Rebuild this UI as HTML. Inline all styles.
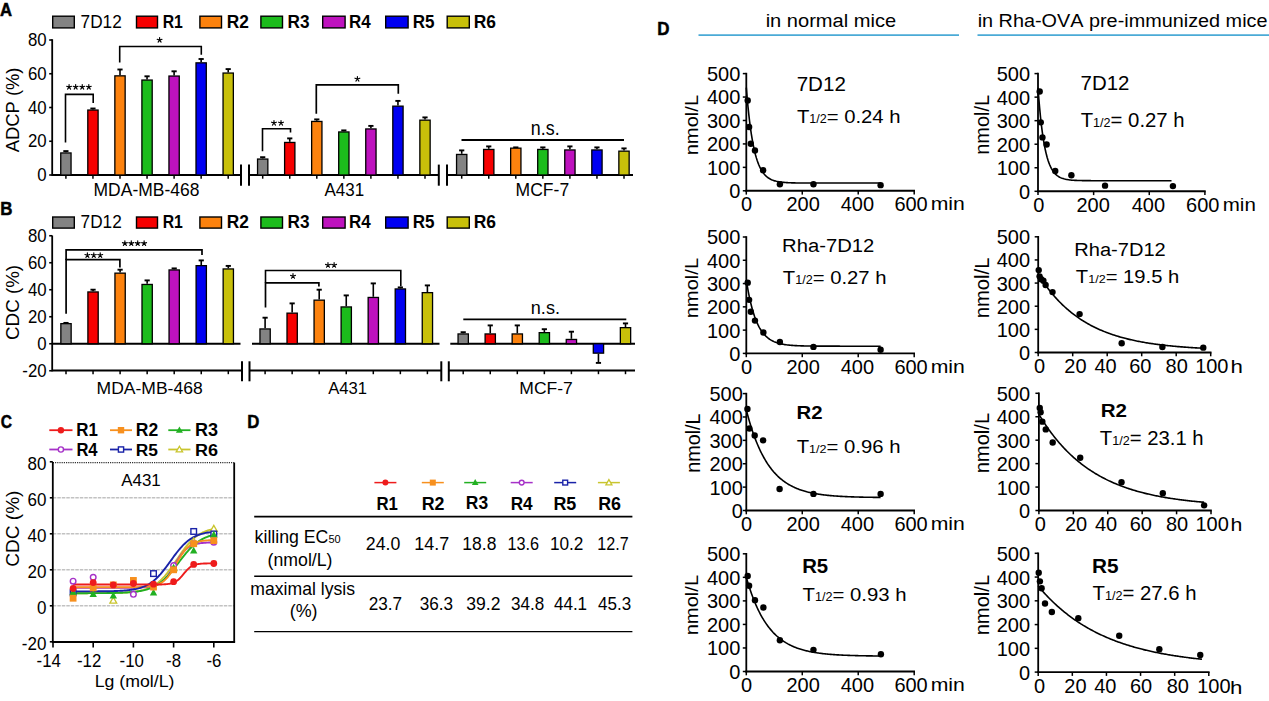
<!DOCTYPE html>
<html><head><meta charset="utf-8"><style>
html,body{margin:0;padding:0;background:#fff;overflow:hidden}
svg{display:block}
text{font-family:"Liberation Sans",sans-serif;font-kerning:none}
</style></head><body>
<svg width="1269" height="701" viewBox="0 0 1269 701">
<rect width="1269" height="701" fill="#fff"/>
<text stroke="#000" stroke-width="0.5" transform="translate(0.08,15.50) scale(0.9338,1)" font-size="17.88" fill="#000"><tspan font-weight="bold">A</tspan></text>
<text stroke="#000" stroke-width="0.5" transform="translate(0.27,215.40) scale(0.9371,1)" font-size="18.02" fill="#000"><tspan font-weight="bold">B</tspan></text>
<text stroke="#000" stroke-width="0.5" transform="translate(0.66,428.31) scale(0.8182,1)" font-size="19.07" fill="#000"><tspan font-weight="bold">C</tspan></text>
<text stroke="#000" stroke-width="0.5" transform="translate(247.28,428.40) scale(0.8754,1)" font-size="19.19" fill="#000"><tspan font-weight="bold">D</tspan></text>
<text stroke="#000" stroke-width="0.5" transform="translate(657.17,34.50) scale(0.9334,1)" font-size="18.17" fill="#000"><tspan font-weight="bold">D</tspan></text>
<rect x="52.70" y="16.20" width="21.60" height="11.70" fill="#838383" stroke="#000" stroke-width="1.4"/>
<rect x="136.50" y="16.20" width="21.00" height="11.70" fill="#f60000" stroke="#000" stroke-width="1.4"/>
<rect x="199.90" y="16.20" width="21.60" height="11.70" fill="#fc820e" stroke="#000" stroke-width="1.4"/>
<rect x="260.90" y="16.20" width="21.60" height="11.70" fill="#1cbc1c" stroke="#000" stroke-width="1.4"/>
<rect x="322.70" y="16.20" width="22.40" height="11.70" fill="#be12be" stroke="#000" stroke-width="1.4"/>
<rect x="385.70" y="16.20" width="22.40" height="11.70" fill="#0000f2" stroke="#000" stroke-width="1.4"/>
<rect x="447.20" y="16.20" width="22.10" height="11.70" fill="#c8c00a" stroke="#000" stroke-width="1.4"/>
<text transform="translate(80.62,27.80) scale(0.9105,1)" font-size="18.90" fill="#000"><tspan >7D12</tspan></text>
<text transform="translate(162.64,27.80) scale(0.8235,1)" font-size="19.19" fill="#000"><tspan font-weight="bold">R1</tspan></text>
<text transform="translate(226.84,27.80) scale(0.9167,1)" font-size="18.90" fill="#000"><tspan font-weight="bold">R2</tspan></text>
<text transform="translate(287.55,27.59) scale(0.9238,1)" font-size="18.61" fill="#000"><tspan font-weight="bold">R3</tspan></text>
<text transform="translate(349.06,27.80) scale(0.8859,1)" font-size="19.19" fill="#000"><tspan font-weight="bold">R4</tspan></text>
<text transform="translate(412.66,27.62) scale(0.9021,1)" font-size="18.92" fill="#000"><tspan font-weight="bold">R5</tspan></text>
<text transform="translate(473.73,27.62) scale(0.9356,1)" font-size="18.64" fill="#000"><tspan font-weight="bold">R6</tspan></text>
<rect x="52.70" y="217.00" width="21.60" height="11.10" fill="#838383" stroke="#000" stroke-width="1.4"/>
<rect x="136.50" y="217.00" width="21.00" height="11.10" fill="#f60000" stroke="#000" stroke-width="1.4"/>
<rect x="199.90" y="217.00" width="21.60" height="11.10" fill="#fc820e" stroke="#000" stroke-width="1.4"/>
<rect x="260.90" y="217.00" width="21.60" height="11.10" fill="#1cbc1c" stroke="#000" stroke-width="1.4"/>
<rect x="322.70" y="217.00" width="22.40" height="11.10" fill="#be12be" stroke="#000" stroke-width="1.4"/>
<rect x="385.70" y="217.00" width="22.40" height="11.10" fill="#0000f2" stroke="#000" stroke-width="1.4"/>
<rect x="447.20" y="217.00" width="22.10" height="11.10" fill="#c8c00a" stroke="#000" stroke-width="1.4"/>
<text transform="translate(80.62,228.00) scale(0.9538,1)" font-size="18.05" fill="#000"><tspan >7D12</tspan></text>
<text transform="translate(162.64,228.00) scale(0.8627,1)" font-size="18.31" fill="#000"><tspan font-weight="bold">R1</tspan></text>
<text transform="translate(226.84,228.00) scale(0.9604,1)" font-size="18.05" fill="#000"><tspan font-weight="bold">R2</tspan></text>
<text transform="translate(287.55,227.80) scale(0.9678,1)" font-size="17.76" fill="#000"><tspan font-weight="bold">R3</tspan></text>
<text transform="translate(349.06,228.00) scale(0.9281,1)" font-size="18.31" fill="#000"><tspan font-weight="bold">R4</tspan></text>
<text transform="translate(412.66,227.82) scale(0.9451,1)" font-size="18.06" fill="#000"><tspan font-weight="bold">R5</tspan></text>
<text transform="translate(473.73,227.83) scale(0.9801,1)" font-size="17.80" fill="#000"><tspan font-weight="bold">R6</tspan></text>
<line x1="52.20" y1="39.20" x2="52.20" y2="175.90" stroke="#000" stroke-width="1.8" />
<line x1="49.20" y1="40.00" x2="52.20" y2="40.00" stroke="#000" stroke-width="1.6" />
<text transform="translate(27.95,46.09) scale(0.9500,1)" font-size="17.70" fill="#000"><tspan >80</tspan></text>
<line x1="49.20" y1="73.75" x2="52.20" y2="73.75" stroke="#000" stroke-width="1.6" />
<text transform="translate(27.95,79.84) scale(0.9500,1)" font-size="17.70" fill="#000"><tspan >60</tspan></text>
<line x1="49.20" y1="107.50" x2="52.20" y2="107.50" stroke="#000" stroke-width="1.6" />
<text transform="translate(27.95,113.59) scale(0.9500,1)" font-size="17.70" fill="#000"><tspan >40</tspan></text>
<line x1="49.20" y1="141.25" x2="52.20" y2="141.25" stroke="#000" stroke-width="1.6" />
<text transform="translate(27.95,147.34) scale(0.9500,1)" font-size="17.70" fill="#000"><tspan >20</tspan></text>
<line x1="49.20" y1="175.00" x2="52.20" y2="175.00" stroke="#000" stroke-width="1.6" />
<text transform="translate(37.31,181.09) scale(0.9500,1)" font-size="17.70" fill="#000"><tspan >0</tspan></text>
<line x1="52.20" y1="175.00" x2="241.00" y2="175.00" stroke="#000" stroke-width="1.8" />
<line x1="249.00" y1="175.00" x2="438.80" y2="175.00" stroke="#000" stroke-width="1.8" />
<line x1="447.00" y1="175.00" x2="633.00" y2="175.00" stroke="#000" stroke-width="1.8" />
<line x1="241.00" y1="164.60" x2="241.00" y2="185.70" stroke="#000" stroke-width="2.0" />
<line x1="249.00" y1="164.60" x2="249.00" y2="185.70" stroke="#000" stroke-width="2.0" />
<line x1="438.80" y1="164.60" x2="438.80" y2="185.70" stroke="#000" stroke-width="2.0" />
<line x1="447.00" y1="164.60" x2="447.00" y2="185.70" stroke="#000" stroke-width="2.0" />
<line x1="65.90" y1="175.00" x2="65.90" y2="178.70" stroke="#000" stroke-width="1.5" />
<line x1="92.95" y1="175.00" x2="92.95" y2="178.70" stroke="#000" stroke-width="1.5" />
<line x1="120.00" y1="175.00" x2="120.00" y2="178.70" stroke="#000" stroke-width="1.5" />
<line x1="147.05" y1="175.00" x2="147.05" y2="178.70" stroke="#000" stroke-width="1.5" />
<line x1="174.10" y1="175.00" x2="174.10" y2="178.70" stroke="#000" stroke-width="1.5" />
<line x1="201.15" y1="175.00" x2="201.15" y2="178.70" stroke="#000" stroke-width="1.5" />
<line x1="228.20" y1="175.00" x2="228.20" y2="178.70" stroke="#000" stroke-width="1.5" />
<line x1="262.70" y1="175.00" x2="262.70" y2="178.70" stroke="#000" stroke-width="1.5" />
<line x1="289.75" y1="175.00" x2="289.75" y2="178.70" stroke="#000" stroke-width="1.5" />
<line x1="316.80" y1="175.00" x2="316.80" y2="178.70" stroke="#000" stroke-width="1.5" />
<line x1="343.85" y1="175.00" x2="343.85" y2="178.70" stroke="#000" stroke-width="1.5" />
<line x1="370.90" y1="175.00" x2="370.90" y2="178.70" stroke="#000" stroke-width="1.5" />
<line x1="397.95" y1="175.00" x2="397.95" y2="178.70" stroke="#000" stroke-width="1.5" />
<line x1="425.00" y1="175.00" x2="425.00" y2="178.70" stroke="#000" stroke-width="1.5" />
<line x1="461.70" y1="175.00" x2="461.70" y2="178.70" stroke="#000" stroke-width="1.5" />
<line x1="488.75" y1="175.00" x2="488.75" y2="178.70" stroke="#000" stroke-width="1.5" />
<line x1="515.80" y1="175.00" x2="515.80" y2="178.70" stroke="#000" stroke-width="1.5" />
<line x1="542.85" y1="175.00" x2="542.85" y2="178.70" stroke="#000" stroke-width="1.5" />
<line x1="569.90" y1="175.00" x2="569.90" y2="178.70" stroke="#000" stroke-width="1.5" />
<line x1="596.95" y1="175.00" x2="596.95" y2="178.70" stroke="#000" stroke-width="1.5" />
<line x1="624.00" y1="175.00" x2="624.00" y2="178.70" stroke="#000" stroke-width="1.5" />
<line x1="65.90" y1="151.10" x2="65.90" y2="152.30" stroke="#000" stroke-width="1.6" />
<line x1="63.30" y1="151.10" x2="68.50" y2="151.10" stroke="#000" stroke-width="1.9" />
<rect x="60.75" y="152.95" width="10.30" height="22.05" fill="#838383" stroke="#000" stroke-width="1.3"/>
<line x1="92.95" y1="108.50" x2="92.95" y2="109.40" stroke="#000" stroke-width="1.6" />
<line x1="90.35" y1="108.50" x2="95.55" y2="108.50" stroke="#000" stroke-width="1.9" />
<rect x="87.80" y="110.05" width="10.30" height="64.95" fill="#f60000" stroke="#000" stroke-width="1.3"/>
<line x1="120.00" y1="69.50" x2="120.00" y2="75.20" stroke="#000" stroke-width="1.6" />
<line x1="117.40" y1="69.50" x2="122.60" y2="69.50" stroke="#000" stroke-width="1.9" />
<rect x="114.85" y="75.85" width="10.30" height="99.15" fill="#fc820e" stroke="#000" stroke-width="1.3"/>
<line x1="147.05" y1="76.30" x2="147.05" y2="79.40" stroke="#000" stroke-width="1.6" />
<line x1="144.45" y1="76.30" x2="149.65" y2="76.30" stroke="#000" stroke-width="1.9" />
<rect x="141.90" y="80.05" width="10.30" height="94.95" fill="#1cbc1c" stroke="#000" stroke-width="1.3"/>
<line x1="174.10" y1="71.30" x2="174.10" y2="75.40" stroke="#000" stroke-width="1.6" />
<line x1="171.50" y1="71.30" x2="176.70" y2="71.30" stroke="#000" stroke-width="1.9" />
<rect x="168.95" y="76.05" width="10.30" height="98.95" fill="#be12be" stroke="#000" stroke-width="1.3"/>
<line x1="201.15" y1="59.00" x2="201.15" y2="62.20" stroke="#000" stroke-width="1.6" />
<line x1="198.55" y1="59.00" x2="203.75" y2="59.00" stroke="#000" stroke-width="1.9" />
<rect x="196.00" y="62.85" width="10.30" height="112.15" fill="#0000f2" stroke="#000" stroke-width="1.3"/>
<line x1="228.20" y1="69.10" x2="228.20" y2="72.40" stroke="#000" stroke-width="1.6" />
<line x1="225.60" y1="69.10" x2="230.80" y2="69.10" stroke="#000" stroke-width="1.9" />
<rect x="223.05" y="73.05" width="10.30" height="101.95" fill="#c8c00a" stroke="#000" stroke-width="1.3"/>
<line x1="262.70" y1="157.20" x2="262.70" y2="158.40" stroke="#000" stroke-width="1.6" />
<line x1="260.10" y1="157.20" x2="265.30" y2="157.20" stroke="#000" stroke-width="1.9" />
<rect x="257.55" y="159.05" width="10.30" height="15.95" fill="#838383" stroke="#000" stroke-width="1.3"/>
<line x1="289.75" y1="138.40" x2="289.75" y2="141.80" stroke="#000" stroke-width="1.6" />
<line x1="287.15" y1="138.40" x2="292.35" y2="138.40" stroke="#000" stroke-width="1.9" />
<rect x="284.60" y="142.45" width="10.30" height="32.55" fill="#f60000" stroke="#000" stroke-width="1.3"/>
<line x1="316.80" y1="119.40" x2="316.80" y2="120.80" stroke="#000" stroke-width="1.6" />
<line x1="314.20" y1="119.40" x2="319.40" y2="119.40" stroke="#000" stroke-width="1.9" />
<rect x="311.65" y="121.45" width="10.30" height="53.55" fill="#fc820e" stroke="#000" stroke-width="1.3"/>
<line x1="343.85" y1="130.40" x2="343.85" y2="131.30" stroke="#000" stroke-width="1.6" />
<line x1="341.25" y1="130.40" x2="346.45" y2="130.40" stroke="#000" stroke-width="1.9" />
<rect x="338.70" y="131.95" width="10.30" height="43.05" fill="#1cbc1c" stroke="#000" stroke-width="1.3"/>
<line x1="370.90" y1="125.90" x2="370.90" y2="128.30" stroke="#000" stroke-width="1.6" />
<line x1="368.30" y1="125.90" x2="373.50" y2="125.90" stroke="#000" stroke-width="1.9" />
<rect x="365.75" y="128.95" width="10.30" height="46.05" fill="#be12be" stroke="#000" stroke-width="1.3"/>
<line x1="397.95" y1="100.90" x2="397.95" y2="105.50" stroke="#000" stroke-width="1.6" />
<line x1="395.35" y1="100.90" x2="400.55" y2="100.90" stroke="#000" stroke-width="1.9" />
<rect x="392.80" y="106.15" width="10.30" height="68.85" fill="#0000f2" stroke="#000" stroke-width="1.3"/>
<line x1="425.00" y1="117.40" x2="425.00" y2="119.50" stroke="#000" stroke-width="1.6" />
<line x1="422.40" y1="117.40" x2="427.60" y2="117.40" stroke="#000" stroke-width="1.9" />
<rect x="419.85" y="120.15" width="10.30" height="54.85" fill="#c8c00a" stroke="#000" stroke-width="1.3"/>
<line x1="461.70" y1="150.40" x2="461.70" y2="153.80" stroke="#000" stroke-width="1.6" />
<line x1="459.10" y1="150.40" x2="464.30" y2="150.40" stroke="#000" stroke-width="1.9" />
<rect x="456.55" y="154.45" width="10.30" height="20.55" fill="#838383" stroke="#000" stroke-width="1.3"/>
<line x1="488.75" y1="146.40" x2="488.75" y2="148.80" stroke="#000" stroke-width="1.6" />
<line x1="486.15" y1="146.40" x2="491.35" y2="146.40" stroke="#000" stroke-width="1.9" />
<rect x="483.60" y="149.45" width="10.30" height="25.55" fill="#f60000" stroke="#000" stroke-width="1.3"/>
<line x1="515.80" y1="147.40" x2="515.80" y2="147.50" stroke="#000" stroke-width="1.6" />
<line x1="513.20" y1="147.40" x2="518.40" y2="147.40" stroke="#000" stroke-width="1.9" />
<rect x="510.65" y="148.15" width="10.30" height="26.85" fill="#fc820e" stroke="#000" stroke-width="1.3"/>
<line x1="542.85" y1="147.40" x2="542.85" y2="148.80" stroke="#000" stroke-width="1.6" />
<line x1="540.25" y1="147.40" x2="545.45" y2="147.40" stroke="#000" stroke-width="1.9" />
<rect x="537.70" y="149.45" width="10.30" height="25.55" fill="#1cbc1c" stroke="#000" stroke-width="1.3"/>
<line x1="569.90" y1="146.40" x2="569.90" y2="149.30" stroke="#000" stroke-width="1.6" />
<line x1="567.30" y1="146.40" x2="572.50" y2="146.40" stroke="#000" stroke-width="1.9" />
<rect x="564.75" y="149.95" width="10.30" height="25.05" fill="#be12be" stroke="#000" stroke-width="1.3"/>
<line x1="596.95" y1="147.40" x2="596.95" y2="149.30" stroke="#000" stroke-width="1.6" />
<line x1="594.35" y1="147.40" x2="599.55" y2="147.40" stroke="#000" stroke-width="1.9" />
<rect x="591.80" y="149.95" width="10.30" height="25.05" fill="#0000f2" stroke="#000" stroke-width="1.3"/>
<line x1="624.00" y1="148.40" x2="624.00" y2="150.50" stroke="#000" stroke-width="1.6" />
<line x1="621.40" y1="148.40" x2="626.60" y2="148.40" stroke="#000" stroke-width="1.9" />
<rect x="618.85" y="151.15" width="10.30" height="23.85" fill="#c8c00a" stroke="#000" stroke-width="1.3"/>
<text transform="translate(18.56,152.24) rotate(-90) scale(1.0444,1)" font-size="17.60" fill="#000"><tspan >ADCP (%)</tspan></text>
<text transform="translate(93.57,195.83) scale(0.9824,1)" font-size="17.80" fill="#000"><tspan >MDA-MB-468</tspan></text>
<text transform="translate(324.47,196.13) scale(0.9619,1)" font-size="17.66" fill="#000"><tspan >A431</tspan></text>
<text transform="translate(515.56,196.13) scale(0.9941,1)" font-size="17.66" fill="#000"><tspan >MCF-7</tspan></text>
<polyline points="65.50,142.50 65.50,94.40 93.20,94.40 93.20,103.00" fill="none" stroke="#000" stroke-width="1.6" />
<path d="M69.08,87.10L69.08,84.55M69.08,87.10L71.50,86.31M69.08,87.10L70.57,89.16M69.08,87.10L67.58,89.16M69.08,87.10L66.65,86.31" stroke="#000" stroke-width="1.15" stroke-linecap="round" fill="none"/>
<path d="M75.66,87.10L75.66,84.55M75.66,87.10L78.08,86.31M75.66,87.10L77.16,89.16M75.66,87.10L74.16,89.16M75.66,87.10L73.23,86.31" stroke="#000" stroke-width="1.15" stroke-linecap="round" fill="none"/>
<path d="M82.24,87.10L82.24,84.55M82.24,87.10L84.67,86.31M82.24,87.10L83.74,89.16M82.24,87.10L80.74,89.16M82.24,87.10L79.82,86.31" stroke="#000" stroke-width="1.15" stroke-linecap="round" fill="none"/>
<path d="M88.82,87.10L88.82,84.55M88.82,87.10L91.25,86.31M88.82,87.10L90.32,89.16M88.82,87.10L87.33,89.16M88.82,87.10L86.40,86.31" stroke="#000" stroke-width="1.15" stroke-linecap="round" fill="none"/>
<polyline points="119.70,62.60 119.70,46.50 201.30,46.50 201.30,54.70" fill="none" stroke="#000" stroke-width="1.6" />
<path d="M159.60,40.10L159.60,37.55M159.60,40.10L162.03,39.31M159.60,40.10L161.10,42.16M159.60,40.10L158.10,42.16M159.60,40.10L157.17,39.31" stroke="#000" stroke-width="1.15" stroke-linecap="round" fill="none"/>
<polyline points="262.50,151.30 262.50,128.80 290.50,128.80 290.50,132.50" fill="none" stroke="#000" stroke-width="1.6" />
<path d="M273.98,123.00L273.98,120.45M273.98,123.00L276.40,122.21M273.98,123.00L275.47,125.06M273.98,123.00L272.48,125.06M273.98,123.00L271.55,122.21" stroke="#000" stroke-width="1.15" stroke-linecap="round" fill="none"/>
<path d="M281.02,123.00L281.02,120.45M281.02,123.00L283.45,122.21M281.02,123.00L282.52,125.06M281.02,123.00L279.53,125.06M281.02,123.00L278.60,122.21" stroke="#000" stroke-width="1.15" stroke-linecap="round" fill="none"/>
<polyline points="316.30,113.80 316.30,84.80 398.30,84.80 398.30,93.80" fill="none" stroke="#000" stroke-width="1.7" />
<path d="M357.40,79.00L357.40,76.45M357.40,79.00L359.83,78.21M357.40,79.00L358.90,81.06M357.40,79.00L355.90,81.06M357.40,79.00L354.97,78.21" stroke="#000" stroke-width="1.15" stroke-linecap="round" fill="none"/>
<line x1="461.50" y1="140.00" x2="624.00" y2="140.00" stroke="#000" stroke-width="1.8" />
<text transform="translate(530.81,135.01) scale(0.8987,1)" font-size="19.90" fill="#000"><tspan >n.s.</tspan></text>
<line x1="52.20" y1="235.50" x2="52.20" y2="371.40" stroke="#000" stroke-width="1.8" />
<line x1="49.20" y1="235.75" x2="52.20" y2="235.75" stroke="#000" stroke-width="1.6" />
<text transform="translate(27.95,241.84) scale(0.9500,1)" font-size="17.70" fill="#000"><tspan >80</tspan></text>
<line x1="49.20" y1="262.75" x2="52.20" y2="262.75" stroke="#000" stroke-width="1.6" />
<text transform="translate(27.95,268.84) scale(0.9500,1)" font-size="17.70" fill="#000"><tspan >60</tspan></text>
<line x1="49.20" y1="289.75" x2="52.20" y2="289.75" stroke="#000" stroke-width="1.6" />
<text transform="translate(27.95,295.84) scale(0.9500,1)" font-size="17.70" fill="#000"><tspan >40</tspan></text>
<line x1="49.20" y1="316.75" x2="52.20" y2="316.75" stroke="#000" stroke-width="1.6" />
<text transform="translate(27.95,322.84) scale(0.9500,1)" font-size="17.70" fill="#000"><tspan >20</tspan></text>
<line x1="49.20" y1="343.75" x2="52.20" y2="343.75" stroke="#000" stroke-width="1.6" />
<text transform="translate(37.31,349.84) scale(0.9500,1)" font-size="17.70" fill="#000"><tspan >0</tspan></text>
<line x1="49.20" y1="370.75" x2="52.20" y2="370.75" stroke="#000" stroke-width="1.6" />
<text transform="translate(22.35,376.84) scale(0.9500,1)" font-size="17.70" fill="#000"><tspan >-20</tspan></text>
<line x1="52.20" y1="343.75" x2="240.50" y2="343.75" stroke="#000" stroke-width="1.8" />
<line x1="252.00" y1="343.75" x2="439.50" y2="343.75" stroke="#000" stroke-width="1.8" />
<line x1="450.30" y1="343.75" x2="635.00" y2="343.75" stroke="#000" stroke-width="1.8" />
<line x1="52.20" y1="370.50" x2="242.00" y2="370.50" stroke="#000" stroke-width="1.8" />
<line x1="249.50" y1="370.50" x2="441.30" y2="370.50" stroke="#000" stroke-width="1.8" />
<line x1="448.80" y1="370.50" x2="635.00" y2="370.50" stroke="#000" stroke-width="1.8" />
<line x1="242.00" y1="361.30" x2="242.00" y2="381.30" stroke="#000" stroke-width="2.0" />
<line x1="249.50" y1="361.30" x2="249.50" y2="381.30" stroke="#000" stroke-width="2.0" />
<line x1="441.30" y1="361.30" x2="441.30" y2="381.30" stroke="#000" stroke-width="2.0" />
<line x1="448.80" y1="361.30" x2="448.80" y2="381.30" stroke="#000" stroke-width="2.0" />
<line x1="66.00" y1="370.50" x2="66.00" y2="374.20" stroke="#000" stroke-width="1.5" />
<line x1="93.05" y1="370.50" x2="93.05" y2="374.20" stroke="#000" stroke-width="1.5" />
<line x1="120.10" y1="370.50" x2="120.10" y2="374.20" stroke="#000" stroke-width="1.5" />
<line x1="147.15" y1="370.50" x2="147.15" y2="374.20" stroke="#000" stroke-width="1.5" />
<line x1="174.20" y1="370.50" x2="174.20" y2="374.20" stroke="#000" stroke-width="1.5" />
<line x1="201.25" y1="370.50" x2="201.25" y2="374.20" stroke="#000" stroke-width="1.5" />
<line x1="228.30" y1="370.50" x2="228.30" y2="374.20" stroke="#000" stroke-width="1.5" />
<line x1="265.10" y1="370.50" x2="265.10" y2="374.20" stroke="#000" stroke-width="1.5" />
<line x1="292.15" y1="370.50" x2="292.15" y2="374.20" stroke="#000" stroke-width="1.5" />
<line x1="319.20" y1="370.50" x2="319.20" y2="374.20" stroke="#000" stroke-width="1.5" />
<line x1="346.25" y1="370.50" x2="346.25" y2="374.20" stroke="#000" stroke-width="1.5" />
<line x1="373.30" y1="370.50" x2="373.30" y2="374.20" stroke="#000" stroke-width="1.5" />
<line x1="400.35" y1="370.50" x2="400.35" y2="374.20" stroke="#000" stroke-width="1.5" />
<line x1="427.40" y1="370.50" x2="427.40" y2="374.20" stroke="#000" stroke-width="1.5" />
<line x1="463.20" y1="370.50" x2="463.20" y2="374.20" stroke="#000" stroke-width="1.5" />
<line x1="490.25" y1="370.50" x2="490.25" y2="374.20" stroke="#000" stroke-width="1.5" />
<line x1="517.30" y1="370.50" x2="517.30" y2="374.20" stroke="#000" stroke-width="1.5" />
<line x1="544.35" y1="370.50" x2="544.35" y2="374.20" stroke="#000" stroke-width="1.5" />
<line x1="571.40" y1="370.50" x2="571.40" y2="374.20" stroke="#000" stroke-width="1.5" />
<line x1="598.45" y1="370.50" x2="598.45" y2="374.20" stroke="#000" stroke-width="1.5" />
<line x1="625.50" y1="370.50" x2="625.50" y2="374.20" stroke="#000" stroke-width="1.5" />
<line x1="66.00" y1="322.90" x2="66.00" y2="323.00" stroke="#000" stroke-width="1.6" />
<line x1="63.40" y1="322.90" x2="68.60" y2="322.90" stroke="#000" stroke-width="1.9" />
<rect x="60.85" y="323.65" width="10.30" height="20.10" fill="#838383" stroke="#000" stroke-width="1.3"/>
<line x1="93.05" y1="289.70" x2="93.05" y2="291.30" stroke="#000" stroke-width="1.6" />
<line x1="90.45" y1="289.70" x2="95.65" y2="289.70" stroke="#000" stroke-width="1.9" />
<rect x="87.90" y="291.95" width="10.30" height="51.80" fill="#f60000" stroke="#000" stroke-width="1.3"/>
<line x1="120.10" y1="269.70" x2="120.10" y2="272.50" stroke="#000" stroke-width="1.6" />
<line x1="117.50" y1="269.70" x2="122.70" y2="269.70" stroke="#000" stroke-width="1.9" />
<rect x="114.95" y="273.15" width="10.30" height="70.60" fill="#fc820e" stroke="#000" stroke-width="1.3"/>
<line x1="147.15" y1="280.40" x2="147.15" y2="283.80" stroke="#000" stroke-width="1.6" />
<line x1="144.55" y1="280.40" x2="149.75" y2="280.40" stroke="#000" stroke-width="1.9" />
<rect x="142.00" y="284.45" width="10.30" height="59.30" fill="#1cbc1c" stroke="#000" stroke-width="1.3"/>
<line x1="174.20" y1="268.40" x2="174.20" y2="269.30" stroke="#000" stroke-width="1.6" />
<line x1="171.60" y1="268.40" x2="176.80" y2="268.40" stroke="#000" stroke-width="1.9" />
<rect x="169.05" y="269.95" width="10.30" height="73.80" fill="#be12be" stroke="#000" stroke-width="1.3"/>
<line x1="201.25" y1="260.40" x2="201.25" y2="265.00" stroke="#000" stroke-width="1.6" />
<line x1="198.65" y1="260.40" x2="203.85" y2="260.40" stroke="#000" stroke-width="1.9" />
<rect x="196.10" y="265.65" width="10.30" height="78.10" fill="#0000f2" stroke="#000" stroke-width="1.3"/>
<line x1="228.30" y1="265.90" x2="228.30" y2="268.30" stroke="#000" stroke-width="1.6" />
<line x1="225.70" y1="265.90" x2="230.90" y2="265.90" stroke="#000" stroke-width="1.9" />
<rect x="223.15" y="268.95" width="10.30" height="74.80" fill="#c8c00a" stroke="#000" stroke-width="1.3"/>
<line x1="265.10" y1="317.70" x2="265.10" y2="328.30" stroke="#000" stroke-width="1.6" />
<line x1="262.50" y1="317.70" x2="267.70" y2="317.70" stroke="#000" stroke-width="1.9" />
<rect x="259.95" y="328.95" width="10.30" height="14.80" fill="#838383" stroke="#000" stroke-width="1.3"/>
<line x1="292.15" y1="303.40" x2="292.15" y2="312.50" stroke="#000" stroke-width="1.6" />
<line x1="289.55" y1="303.40" x2="294.75" y2="303.40" stroke="#000" stroke-width="1.9" />
<rect x="287.00" y="313.15" width="10.30" height="30.60" fill="#f60000" stroke="#000" stroke-width="1.3"/>
<line x1="319.20" y1="289.70" x2="319.20" y2="299.50" stroke="#000" stroke-width="1.6" />
<line x1="316.60" y1="289.70" x2="321.80" y2="289.70" stroke="#000" stroke-width="1.9" />
<rect x="314.05" y="300.15" width="10.30" height="43.60" fill="#fc820e" stroke="#000" stroke-width="1.3"/>
<line x1="346.25" y1="295.40" x2="346.25" y2="306.30" stroke="#000" stroke-width="1.6" />
<line x1="343.65" y1="295.40" x2="348.85" y2="295.40" stroke="#000" stroke-width="1.9" />
<rect x="341.10" y="306.95" width="10.30" height="36.80" fill="#1cbc1c" stroke="#000" stroke-width="1.3"/>
<line x1="373.30" y1="283.40" x2="373.30" y2="296.80" stroke="#000" stroke-width="1.6" />
<line x1="370.70" y1="283.40" x2="375.90" y2="283.40" stroke="#000" stroke-width="1.9" />
<rect x="368.15" y="297.45" width="10.30" height="46.30" fill="#be12be" stroke="#000" stroke-width="1.3"/>
<line x1="400.35" y1="287.40" x2="400.35" y2="288.30" stroke="#000" stroke-width="1.6" />
<line x1="397.75" y1="287.40" x2="402.95" y2="287.40" stroke="#000" stroke-width="1.9" />
<rect x="395.20" y="288.95" width="10.30" height="54.80" fill="#0000f2" stroke="#000" stroke-width="1.3"/>
<line x1="427.40" y1="285.40" x2="427.40" y2="292.00" stroke="#000" stroke-width="1.6" />
<line x1="424.80" y1="285.40" x2="430.00" y2="285.40" stroke="#000" stroke-width="1.9" />
<rect x="422.25" y="292.65" width="10.30" height="51.10" fill="#c8c00a" stroke="#000" stroke-width="1.3"/>
<line x1="463.20" y1="332.20" x2="463.20" y2="333.30" stroke="#000" stroke-width="1.6" />
<line x1="460.60" y1="332.20" x2="465.80" y2="332.20" stroke="#000" stroke-width="1.9" />
<rect x="458.05" y="333.95" width="10.30" height="9.80" fill="#838383" stroke="#000" stroke-width="1.3"/>
<line x1="490.25" y1="325.40" x2="490.25" y2="333.30" stroke="#000" stroke-width="1.6" />
<line x1="487.65" y1="325.40" x2="492.85" y2="325.40" stroke="#000" stroke-width="1.9" />
<rect x="485.10" y="333.95" width="10.30" height="9.80" fill="#f60000" stroke="#000" stroke-width="1.3"/>
<line x1="517.30" y1="325.40" x2="517.30" y2="333.30" stroke="#000" stroke-width="1.6" />
<line x1="514.70" y1="325.40" x2="519.90" y2="325.40" stroke="#000" stroke-width="1.9" />
<rect x="512.15" y="333.95" width="10.30" height="9.80" fill="#fc820e" stroke="#000" stroke-width="1.3"/>
<line x1="544.35" y1="329.20" x2="544.35" y2="332.00" stroke="#000" stroke-width="1.6" />
<line x1="541.75" y1="329.20" x2="546.95" y2="329.20" stroke="#000" stroke-width="1.9" />
<rect x="539.20" y="332.65" width="10.30" height="11.10" fill="#1cbc1c" stroke="#000" stroke-width="1.3"/>
<line x1="571.40" y1="331.70" x2="571.40" y2="338.80" stroke="#000" stroke-width="1.6" />
<line x1="568.80" y1="331.70" x2="574.00" y2="331.70" stroke="#000" stroke-width="1.9" />
<rect x="566.25" y="339.45" width="10.30" height="4.30" fill="#be12be" stroke="#000" stroke-width="1.3"/>
<line x1="598.45" y1="353.80" x2="598.45" y2="362.90" stroke="#000" stroke-width="1.6" />
<line x1="595.85" y1="362.90" x2="601.05" y2="362.90" stroke="#000" stroke-width="1.9" />
<rect x="593.30" y="343.75" width="10.30" height="9.40" fill="#0000f2" stroke="#000" stroke-width="1.3"/>
<line x1="625.50" y1="323.40" x2="625.50" y2="327.00" stroke="#000" stroke-width="1.6" />
<line x1="622.90" y1="323.40" x2="628.10" y2="323.40" stroke="#000" stroke-width="1.9" />
<rect x="620.35" y="327.65" width="10.30" height="16.10" fill="#c8c00a" stroke="#000" stroke-width="1.3"/>
<text transform="translate(18.72,339.95) rotate(-90) scale(1.0293,1)" font-size="18.25" fill="#000"><tspan >CDC (%)</tspan></text>
<text transform="translate(96.56,394.33) scale(1.0345,1)" font-size="16.95" fill="#000"><tspan >MDA-MB-468</tspan></text>
<text transform="translate(328.27,394.33) scale(0.9813,1)" font-size="16.95" fill="#000"><tspan >A431</tspan></text>
<text transform="translate(519.36,394.33) scale(1.0335,1)" font-size="16.95" fill="#000"><tspan >MCF-7</tspan></text>
<polyline points="66.10,313.80 66.10,259.60 119.90,259.60 119.90,267.50" fill="none" stroke="#000" stroke-width="1.7" />
<path d="M87.38,255.30L87.38,252.75M87.38,255.30L89.80,254.51M87.38,255.30L88.87,257.36M87.38,255.30L85.88,257.36M87.38,255.30L84.95,254.51" stroke="#000" stroke-width="1.15" stroke-linecap="round" fill="none"/>
<path d="M93.80,255.30L93.80,252.75M93.80,255.30L96.23,254.51M93.80,255.30L95.30,257.36M93.80,255.30L92.30,257.36M93.80,255.30L91.37,254.51" stroke="#000" stroke-width="1.15" stroke-linecap="round" fill="none"/>
<path d="M100.22,255.30L100.22,252.75M100.22,255.30L102.65,254.51M100.22,255.30L101.72,257.36M100.22,255.30L98.73,257.36M100.22,255.30L97.80,254.51" stroke="#000" stroke-width="1.15" stroke-linecap="round" fill="none"/>
<polyline points="66.10,260.00 66.10,249.80 202.00,249.80 202.00,255.00" fill="none" stroke="#000" stroke-width="1.7" />
<path d="M124.88,243.40L124.88,240.85M124.88,243.40L127.30,242.61M124.88,243.40L126.37,245.46M124.88,243.40L123.38,245.46M124.88,243.40L122.45,242.61" stroke="#000" stroke-width="1.15" stroke-linecap="round" fill="none"/>
<path d="M131.29,243.40L131.29,240.85M131.29,243.40L133.72,242.61M131.29,243.40L132.79,245.46M131.29,243.40L129.79,245.46M131.29,243.40L128.87,242.61" stroke="#000" stroke-width="1.15" stroke-linecap="round" fill="none"/>
<path d="M137.71,243.40L137.71,240.85M137.71,243.40L140.13,242.61M137.71,243.40L139.21,245.46M137.71,243.40L136.21,245.46M137.71,243.40L135.28,242.61" stroke="#000" stroke-width="1.15" stroke-linecap="round" fill="none"/>
<path d="M144.12,243.40L144.12,240.85M144.12,243.40L146.55,242.61M144.12,243.40L145.62,245.46M144.12,243.40L142.63,245.46M144.12,243.40L141.70,242.61" stroke="#000" stroke-width="1.15" stroke-linecap="round" fill="none"/>
<polyline points="265.50,307.50 265.50,282.80 318.90,282.80 318.90,286.50" fill="none" stroke="#000" stroke-width="1.7" />
<path d="M293.00,276.20L293.00,273.65M293.00,276.20L295.43,275.41M293.00,276.20L294.50,278.26M293.00,276.20L291.50,278.26M293.00,276.20L290.57,275.41" stroke="#000" stroke-width="1.15" stroke-linecap="round" fill="none"/>
<polyline points="265.50,282.50 265.50,270.50 400.80,270.50 400.80,286.30" fill="none" stroke="#000" stroke-width="1.6" />
<path d="M327.98,265.20L327.98,262.65M327.98,265.20L330.40,264.41M327.98,265.20L329.47,267.26M327.98,265.20L326.48,267.26M327.98,265.20L325.55,264.41" stroke="#000" stroke-width="1.15" stroke-linecap="round" fill="none"/>
<path d="M334.12,265.20L334.12,262.65M334.12,265.20L336.55,264.41M334.12,265.20L335.62,267.26M334.12,265.20L332.63,267.26M334.12,265.20L331.70,264.41" stroke="#000" stroke-width="1.15" stroke-linecap="round" fill="none"/>
<line x1="463.30" y1="319.30" x2="626.30" y2="319.30" stroke="#000" stroke-width="1.8" />
<text transform="translate(530.80,313.82) scale(0.9715,1)" font-size="18.62" fill="#000"><tspan >n.s.</tspan></text>
<line x1="49.30" y1="430.20" x2="72.50" y2="430.20" stroke="#ee1c1c" stroke-width="1.8" />
<circle cx="60.90" cy="430.20" r="3.2" fill="#ee1c1c"/>
<text transform="translate(76.37,436.30) scale(0.9300,1)" font-size="18.17" fill="#000"><tspan font-weight="bold">R1</tspan></text>
<line x1="110.00" y1="430.20" x2="132.00" y2="430.20" stroke="#f7901e" stroke-width="1.8" />
<rect x="117.80" y="427.00" width="6.40" height="6.40" fill="#f7901e"/>
<text transform="translate(135.83,436.30) scale(0.9776,1)" font-size="17.90" fill="#000"><tspan font-weight="bold">R2</tspan></text>
<line x1="168.30" y1="430.20" x2="190.50" y2="430.20" stroke="#22b022" stroke-width="1.8" />
<polygon points="179.40,426.40 182.90,432.76 175.90,432.76" fill="#22b022"/>
<text transform="translate(195.09,436.10) scale(1.0238,1)" font-size="17.62" fill="#000"><tspan font-weight="bold">R3</tspan></text>
<line x1="49.30" y1="449.50" x2="72.50" y2="449.50" stroke="#a632c8" stroke-width="1.8" />
<circle cx="60.90" cy="449.50" r="2.6" fill="#fff" stroke="#a632c8" stroke-width="1.4"/>
<text transform="translate(76.39,455.80) scale(0.9507,1)" font-size="17.44" fill="#000"><tspan font-weight="bold">R4</tspan></text>
<line x1="110.00" y1="449.50" x2="132.00" y2="449.50" stroke="#1a23a8" stroke-width="1.8" />
<rect x="118.40" y="446.90" width="5.20" height="5.20" fill="#fff" stroke="#1a23a8" stroke-width="1.4"/>
<text transform="translate(135.84,455.63) scale(1.0071,1)" font-size="17.20" fill="#000"><tspan font-weight="bold">R5</tspan></text>
<line x1="168.30" y1="449.50" x2="190.50" y2="449.50" stroke="#c9c52e" stroke-width="1.8" />
<polygon points="179.40,446.30 182.60,451.90 176.20,451.90" fill="#fff" stroke="#c9c52e" stroke-width="1.3"/>
<text transform="translate(195.09,455.63) scale(1.0643,1)" font-size="16.95" fill="#000"><tspan font-weight="bold">R6</tspan></text>
<line x1="52.80" y1="497.80" x2="234.20" y2="497.80" stroke="#c2c2c2" stroke-width="1.6" stroke-dasharray="3.5,1"/>
<line x1="52.80" y1="533.80" x2="234.20" y2="533.80" stroke="#c2c2c2" stroke-width="1.6" stroke-dasharray="3.5,1"/>
<line x1="52.80" y1="569.80" x2="234.20" y2="569.80" stroke="#c2c2c2" stroke-width="1.6" stroke-dasharray="3.5,1"/>
<line x1="52.80" y1="605.80" x2="234.20" y2="605.80" stroke="#c2c2c2" stroke-width="1.6" stroke-dasharray="3.5,1"/>
<line x1="52.80" y1="462.60" x2="234.20" y2="462.60" stroke="#333" stroke-width="1.2" stroke-dasharray="1.2,1"/>
<line x1="234.20" y1="462.60" x2="234.20" y2="642.40" stroke="#000" stroke-width="1.8" />
<line x1="52.80" y1="462.00" x2="52.80" y2="642.40" stroke="#000" stroke-width="1.8" />
<line x1="51.90" y1="642.00" x2="235.10" y2="642.00" stroke="#000" stroke-width="1.8" />
<line x1="49.80" y1="461.80" x2="52.80" y2="461.80" stroke="#000" stroke-width="1.6" />
<text transform="translate(27.53,469.56) scale(0.9200,1)" font-size="18.50" fill="#000"><tspan >80</tspan></text>
<line x1="49.80" y1="497.80" x2="52.80" y2="497.80" stroke="#000" stroke-width="1.6" />
<text transform="translate(27.53,505.56) scale(0.9200,1)" font-size="18.50" fill="#000"><tspan >60</tspan></text>
<line x1="49.80" y1="533.80" x2="52.80" y2="533.80" stroke="#000" stroke-width="1.6" />
<text transform="translate(27.53,541.56) scale(0.9200,1)" font-size="18.50" fill="#000"><tspan >40</tspan></text>
<line x1="49.80" y1="569.80" x2="52.80" y2="569.80" stroke="#000" stroke-width="1.6" />
<text transform="translate(27.53,577.56) scale(0.9200,1)" font-size="18.50" fill="#000"><tspan >20</tspan></text>
<line x1="49.80" y1="605.80" x2="52.80" y2="605.80" stroke="#000" stroke-width="1.6" />
<text transform="translate(37.00,613.56) scale(0.9200,1)" font-size="18.50" fill="#000"><tspan >0</tspan></text>
<line x1="49.80" y1="641.80" x2="52.80" y2="641.80" stroke="#000" stroke-width="1.6" />
<text transform="translate(21.87,649.56) scale(0.9200,1)" font-size="18.50" fill="#000"><tspan >-20</tspan></text>
<line x1="53.00" y1="642.00" x2="53.00" y2="647.50" stroke="#000" stroke-width="1.6" />
<text transform="translate(36.62,667.30) scale(0.9500,1)" font-size="17.70" fill="#000"><tspan >-14</tspan></text>
<line x1="93.20" y1="642.00" x2="93.20" y2="647.50" stroke="#000" stroke-width="1.6" />
<text transform="translate(77.00,667.30) scale(0.9500,1)" font-size="17.70" fill="#000"><tspan >-12</tspan></text>
<line x1="133.40" y1="642.00" x2="133.40" y2="647.50" stroke="#000" stroke-width="1.6" />
<text transform="translate(119.60,667.30) scale(0.9500,1)" font-size="17.70" fill="#000"><tspan >-10</tspan></text>
<line x1="173.60" y1="642.00" x2="173.60" y2="647.50" stroke="#000" stroke-width="1.6" />
<text transform="translate(166.12,667.30) scale(0.9500,1)" font-size="17.70" fill="#000"><tspan >-8</tspan></text>
<line x1="213.80" y1="642.00" x2="213.80" y2="647.50" stroke="#000" stroke-width="1.6" />
<text transform="translate(206.52,667.30) scale(0.9500,1)" font-size="17.70" fill="#000"><tspan >-6</tspan></text>
<text transform="translate(18.61,566.77) rotate(-90) scale(1.0150,1)" font-size="18.78" fill="#000"><tspan >CDC (%)</tspan></text>
<text transform="translate(94.75,686.68) scale(1.0452,1)" font-size="16.95" fill="#000"><tspan >Lg (mol/L)</tspan></text>
<text transform="translate(121.27,486.14) scale(1.0164,1)" font-size="16.67" fill="#000"><tspan >A431</tspan></text>
<polyline points="73.10,593.19 74.11,593.19 75.11,593.19 76.12,593.19 77.12,593.19 78.12,593.19 79.13,593.19 80.13,593.19 81.14,593.19 82.14,593.19 83.15,593.18 84.16,593.18 85.16,593.18 86.17,593.18 87.17,593.18 88.18,593.18 89.18,593.17 90.19,593.17 91.19,593.17 92.19,593.16 93.20,593.16 94.21,593.16 95.21,593.15 96.22,593.15 97.22,593.14 98.22,593.14 99.23,593.13 100.23,593.13 101.24,593.12 102.24,593.11 103.25,593.11 104.26,593.10 105.26,593.09 106.27,593.08 107.27,593.06 108.28,593.05 109.28,593.04 110.28,593.02 111.29,593.01 112.29,592.99 113.30,592.97 114.31,592.95 115.31,592.92 116.32,592.90 117.32,592.87 118.33,592.84 119.33,592.80 120.33,592.77 121.34,592.73 122.34,592.68 123.35,592.63 124.36,592.58 125.36,592.52 126.37,592.46 127.37,592.39 128.38,592.32 129.38,592.24 130.38,592.15 131.39,592.05 132.39,591.94 133.40,591.83 134.41,591.70 135.41,591.56 136.42,591.41 137.42,591.25 138.43,591.07 139.43,590.88 140.44,590.67 141.44,590.44 142.44,590.20 143.45,589.93 144.46,589.64 145.46,589.32 146.47,588.98 147.47,588.61 148.48,588.21 149.48,587.78 150.49,587.32 151.49,586.82 152.50,586.28 153.50,585.71 154.51,585.09 155.51,584.43 156.52,583.72 157.52,582.97 158.53,582.16 159.53,581.31 160.54,580.41 161.54,579.46 162.54,578.45 163.55,577.39 164.56,576.29 165.56,575.13 166.56,573.92 167.57,572.67 168.57,571.37 169.58,570.03 170.59,568.66 171.59,567.25 172.59,565.82 173.60,564.36 174.61,562.88 175.61,561.39 176.62,559.90 177.62,558.41 178.62,556.92 179.63,555.44 180.64,553.98 181.64,552.55 182.65,551.14 183.65,549.77 184.66,548.43 185.66,547.13 186.67,545.88 187.67,544.67 188.68,543.51 189.68,542.41 190.69,541.35 191.69,540.34 192.70,539.39 193.70,538.49 194.71,537.64 195.71,536.83 196.72,536.08 197.72,535.37 198.73,534.71 199.73,534.09 200.74,533.52 201.74,532.98 202.75,532.48 203.75,532.02 204.76,531.59 205.76,531.19 206.77,530.82 207.77,530.48 208.78,530.16 209.78,529.87 210.79,529.60 211.79,529.36 212.80,529.13 213.80,528.92" fill="none" stroke="#c9c52e" stroke-width="1.9" />
<polyline points="73.10,587.80 74.11,587.80 75.11,587.80 76.12,587.80 77.12,587.80 78.12,587.80 79.13,587.80 80.13,587.80 81.14,587.80 82.14,587.80 83.15,587.80 84.16,587.80 85.16,587.80 86.17,587.80 87.17,587.80 88.18,587.80 89.18,587.80 90.19,587.80 91.19,587.80 92.19,587.80 93.20,587.80 94.21,587.80 95.21,587.80 96.22,587.80 97.22,587.80 98.22,587.80 99.23,587.80 100.23,587.80 101.24,587.80 102.24,587.80 103.25,587.80 104.26,587.80 105.26,587.80 106.27,587.80 107.27,587.80 108.28,587.80 109.28,587.80 110.28,587.80 111.29,587.80 112.29,587.80 113.30,587.80 114.31,587.79 115.31,587.79 116.32,587.79 117.32,587.79 118.33,587.79 119.33,587.79 120.33,587.79 121.34,587.78 122.34,587.78 123.35,587.78 124.36,587.77 125.36,587.77 126.37,587.77 127.37,587.76 128.38,587.75 129.38,587.75 130.38,587.74 131.39,587.73 132.39,587.72 133.40,587.70 134.41,587.69 135.41,587.67 136.42,587.65 137.42,587.62 138.43,587.59 139.43,587.56 140.44,587.52 141.44,587.48 142.44,587.42 143.45,587.36 144.46,587.29 145.46,587.21 146.47,587.12 147.47,587.01 148.48,586.89 149.48,586.75 150.49,586.58 151.49,586.39 152.50,586.17 153.50,585.92 154.51,585.63 155.51,585.29 156.52,584.92 157.52,584.48 158.53,583.99 159.53,583.44 160.54,582.81 161.54,582.11 162.54,581.32 163.55,580.44 164.56,579.47 165.56,578.40 166.56,577.24 167.57,575.97 168.57,574.62 169.58,573.17 170.59,571.65 171.59,570.06 172.59,568.41 173.60,566.73 174.61,565.03 175.61,563.33 176.62,561.65 177.62,560.00 178.62,558.41 179.63,556.89 180.64,555.44 181.64,554.09 182.65,552.82 183.65,551.66 184.66,550.59 185.66,549.62 186.67,548.74 187.67,547.95 188.68,547.25 189.68,546.62 190.69,546.07 191.69,545.58 192.70,545.14 193.70,544.77 194.71,544.43 195.71,544.14 196.72,543.89 197.72,543.67 198.73,543.48 199.73,543.31 200.74,543.17 201.74,543.05 202.75,542.94 203.75,542.85 204.76,542.77 205.76,542.70 206.77,542.64 207.77,542.58 208.78,542.54 209.78,542.50 210.79,542.47 211.79,542.44 212.80,542.41 213.80,542.39" fill="none" stroke="#a632c8" stroke-width="1.9" />
<polyline points="73.10,593.19 74.11,593.19 75.11,593.19 76.12,593.19 77.12,593.19 78.12,593.19 79.13,593.19 80.13,593.19 81.14,593.19 82.14,593.18 83.15,593.18 84.16,593.18 85.16,593.18 86.17,593.18 87.17,593.18 88.18,593.17 89.18,593.17 90.19,593.17 91.19,593.17 92.19,593.16 93.20,593.16 94.21,593.16 95.21,593.15 96.22,593.15 97.22,593.14 98.22,593.14 99.23,593.13 100.23,593.13 101.24,593.12 102.24,593.11 103.25,593.11 104.26,593.10 105.26,593.09 106.27,593.08 107.27,593.07 108.28,593.06 109.28,593.04 110.28,593.03 111.29,593.01 112.29,593.00 113.30,592.98 114.31,592.96 115.31,592.94 116.32,592.91 117.32,592.89 118.33,592.86 119.33,592.83 120.33,592.79 121.34,592.76 122.34,592.72 123.35,592.67 124.36,592.63 125.36,592.58 126.37,592.52 127.37,592.46 128.38,592.39 129.38,592.32 130.38,592.25 131.39,592.16 132.39,592.07 133.40,591.97 134.41,591.86 135.41,591.74 136.42,591.61 137.42,591.47 138.43,591.32 139.43,591.16 140.44,590.98 141.44,590.79 142.44,590.58 143.45,590.36 144.46,590.11 145.46,589.85 146.47,589.57 147.47,589.26 148.48,588.93 149.48,588.57 150.49,588.19 151.49,587.78 152.50,587.34 153.50,586.86 154.51,586.36 155.51,585.81 156.52,585.23 157.52,584.62 158.53,583.96 159.53,583.26 160.54,582.52 161.54,581.74 162.54,580.91 163.55,580.04 164.56,579.13 165.56,578.17 166.56,577.17 167.57,576.13 168.57,575.05 169.58,573.93 170.59,572.77 171.59,571.58 172.59,570.35 173.60,569.10 174.61,567.83 175.61,566.54 176.62,565.24 177.62,563.92 178.62,562.60 179.63,561.28 180.64,559.96 181.64,558.66 182.65,557.37 183.65,556.10 184.66,554.85 185.66,553.62 186.67,552.43 187.67,551.27 188.68,550.15 189.68,549.07 190.69,548.03 191.69,547.03 192.70,546.07 193.70,545.16 194.71,544.29 195.71,543.46 196.72,542.68 197.72,541.94 198.73,541.24 199.73,540.58 200.74,539.97 201.74,539.39 202.75,538.84 203.75,538.34 204.76,537.86 205.76,537.42 206.77,537.01 207.77,536.63 208.78,536.27 209.78,535.94 210.79,535.63 211.79,535.35 212.80,535.09 213.80,534.84" fill="none" stroke="#22b022" stroke-width="1.9" />
<polyline points="73.10,587.26 74.11,587.26 75.11,587.26 76.12,587.26 77.12,587.26 78.12,587.26 79.13,587.26 80.13,587.26 81.14,587.26 82.14,587.26 83.15,587.26 84.16,587.26 85.16,587.26 86.17,587.26 87.17,587.26 88.18,587.26 89.18,587.26 90.19,587.26 91.19,587.26 92.19,587.26 93.20,587.26 94.21,587.26 95.21,587.26 96.22,587.26 97.22,587.26 98.22,587.26 99.23,587.26 100.23,587.26 101.24,587.26 102.24,587.26 103.25,587.26 104.26,587.26 105.26,587.26 106.27,587.26 107.27,587.26 108.28,587.26 109.28,587.26 110.28,587.26 111.29,587.26 112.29,587.26 113.30,587.26 114.31,587.26 115.31,587.25 116.32,587.25 117.32,587.25 118.33,587.25 119.33,587.25 120.33,587.25 121.34,587.25 122.34,587.24 123.35,587.24 124.36,587.24 125.36,587.24 126.37,587.23 127.37,587.23 128.38,587.22 129.38,587.22 130.38,587.21 131.39,587.20 132.39,587.19 133.40,587.18 134.41,587.17 135.41,587.15 136.42,587.14 137.42,587.12 138.43,587.10 139.43,587.07 140.44,587.04 141.44,587.00 142.44,586.96 143.45,586.91 144.46,586.86 145.46,586.79 146.47,586.72 147.47,586.63 148.48,586.53 149.48,586.42 150.49,586.28 151.49,586.13 152.50,585.95 153.50,585.75 154.51,585.51 155.51,585.24 156.52,584.94 157.52,584.58 158.53,584.18 159.53,583.72 160.54,583.19 161.54,582.60 162.54,581.93 163.55,581.18 164.56,580.35 165.56,579.42 166.56,578.39 167.57,577.26 168.57,576.03 169.58,574.69 170.59,573.26 171.59,571.74 172.59,570.15 173.60,568.48 174.61,566.76 175.61,565.01 176.62,563.24 177.62,561.47 178.62,559.73 179.63,558.03 180.64,556.39 181.64,554.82 182.65,553.33 183.65,551.94 184.66,550.65 185.66,549.46 186.67,548.37 187.67,547.38 188.68,546.49 189.68,545.69 190.69,544.97 191.69,544.33 192.70,543.77 193.70,543.27 194.71,542.83 195.71,542.45 196.72,542.12 197.72,541.82 198.73,541.57 199.73,541.35 200.74,541.15 201.74,540.98 202.75,540.84 203.75,540.71 204.76,540.61 205.76,540.51 206.77,540.43 207.77,540.36 208.78,540.30 209.78,540.25 210.79,540.20 211.79,540.16 212.80,540.13 213.80,540.10" fill="none" stroke="#f7901e" stroke-width="1.9" />
<polyline points="73.10,591.39 74.11,591.39 75.11,591.39 76.12,591.39 77.12,591.39 78.12,591.39 79.13,591.39 80.13,591.38 81.14,591.38 82.14,591.38 83.15,591.38 84.16,591.38 85.16,591.38 86.17,591.37 87.17,591.37 88.18,591.37 89.18,591.37 90.19,591.36 91.19,591.36 92.19,591.35 93.20,591.35 94.21,591.34 95.21,591.34 96.22,591.33 97.22,591.33 98.22,591.32 99.23,591.31 100.23,591.30 101.24,591.29 102.24,591.28 103.25,591.27 104.26,591.26 105.26,591.25 106.27,591.23 107.27,591.22 108.28,591.20 109.28,591.18 110.28,591.16 111.29,591.14 112.29,591.11 113.30,591.08 114.31,591.05 115.31,591.02 116.32,590.98 117.32,590.94 118.33,590.90 119.33,590.85 120.33,590.80 121.34,590.74 122.34,590.68 123.35,590.61 124.36,590.53 125.36,590.45 126.37,590.36 127.37,590.26 128.38,590.15 129.38,590.04 130.38,589.91 131.39,589.77 132.39,589.62 133.40,589.45 134.41,589.27 135.41,589.07 136.42,588.86 137.42,588.62 138.43,588.37 139.43,588.09 140.44,587.79 141.44,587.46 142.44,587.11 143.45,586.73 144.46,586.32 145.46,585.87 146.47,585.39 147.47,584.87 148.48,584.31 149.48,583.72 150.49,583.08 151.49,582.39 152.50,581.66 153.50,580.89 154.51,580.06 155.51,579.19 156.52,578.26 157.52,577.29 158.53,576.27 159.53,575.19 160.54,574.08 161.54,572.91 162.54,571.71 163.55,570.46 164.56,569.18 165.56,567.86 166.56,566.52 167.57,565.16 168.57,563.77 169.58,562.38 170.59,560.98 171.59,559.58 172.59,558.19 173.60,556.80 174.61,555.44 175.61,554.10 176.62,552.78 177.62,551.50 178.62,550.25 179.63,549.05 180.64,547.88 181.64,546.77 182.65,545.69 183.65,544.67 184.66,543.70 185.66,542.77 186.67,541.90 187.67,541.07 188.68,540.30 189.68,539.57 190.69,538.88 191.69,538.24 192.70,537.65 193.70,537.09 194.71,536.57 195.71,536.09 196.72,535.64 197.72,535.23 198.73,534.85 199.73,534.50 200.74,534.17 201.74,533.87 202.75,533.59 203.75,533.34 204.76,533.10 205.76,532.89 206.77,532.69 207.77,532.51 208.78,532.34 209.78,532.19 210.79,532.05 211.79,531.92 212.80,531.81 213.80,531.70" fill="none" stroke="#1a23a8" stroke-width="1.9" />
<polyline points="73.10,584.56 74.11,584.56 75.11,584.56 76.12,584.56 77.12,584.56 78.12,584.56 79.13,584.56 80.13,584.56 81.14,584.56 82.14,584.56 83.15,584.56 84.16,584.56 85.16,584.56 86.17,584.56 87.17,584.56 88.18,584.56 89.18,584.56 90.19,584.56 91.19,584.56 92.19,584.56 93.20,584.56 94.21,584.56 95.21,584.56 96.22,584.56 97.22,584.56 98.22,584.56 99.23,584.56 100.23,584.56 101.24,584.56 102.24,584.56 103.25,584.56 104.26,584.56 105.26,584.56 106.27,584.56 107.27,584.56 108.28,584.56 109.28,584.56 110.28,584.56 111.29,584.56 112.29,584.56 113.30,584.56 114.31,584.56 115.31,584.56 116.32,584.56 117.32,584.56 118.33,584.56 119.33,584.56 120.33,584.56 121.34,584.56 122.34,584.56 123.35,584.56 124.36,584.56 125.36,584.56 126.37,584.56 127.37,584.56 128.38,584.56 129.38,584.56 130.38,584.56 131.39,584.56 132.39,584.56 133.40,584.56 134.41,584.56 135.41,584.56 136.42,584.56 137.42,584.56 138.43,584.56 139.43,584.56 140.44,584.56 141.44,584.56 142.44,584.56 143.45,584.56 144.46,584.56 145.46,584.56 146.47,584.56 147.47,584.55 148.48,584.55 149.48,584.55 150.49,584.55 151.49,584.55 152.50,584.54 153.50,584.54 154.51,584.53 155.51,584.53 156.52,584.52 157.52,584.51 158.53,584.49 159.53,584.48 160.54,584.45 161.54,584.43 162.54,584.39 163.55,584.35 164.56,584.30 165.56,584.23 166.56,584.14 167.57,584.04 168.57,583.91 169.58,583.75 170.59,583.55 171.59,583.30 172.59,583.00 173.60,582.63 174.61,582.19 175.61,581.65 176.62,581.03 177.62,580.30 178.62,579.46 179.63,578.51 180.64,577.47 181.64,576.34 182.65,575.16 183.65,573.94 184.66,572.72 185.66,571.54 186.67,570.41 187.67,569.37 188.68,568.42 189.68,567.58 190.69,566.85 191.69,566.23 192.70,565.69 193.70,565.25 194.71,564.88 195.71,564.58 196.72,564.33 197.72,564.13 198.73,563.97 199.73,563.84 200.74,563.74 201.74,563.65 202.75,563.58 203.75,563.53 204.76,563.49 205.76,563.45 206.77,563.43 207.77,563.40 208.78,563.39 209.78,563.37 210.79,563.36 211.79,563.35 212.80,563.35 213.80,563.34" fill="none" stroke="#ee1c1c" stroke-width="1.9" />
<polygon points="113.30,597.18 116.70,603.13 109.90,603.13" fill="#fff" stroke="#c9c52e" stroke-width="1.3"/>
<polygon points="193.70,537.96 197.10,543.91 190.30,543.91" fill="#fff" stroke="#c9c52e" stroke-width="1.3"/>
<polygon points="213.80,525.36 217.20,531.31 210.40,531.31" fill="#fff" stroke="#c9c52e" stroke-width="1.3"/>
<polygon points="173.60,564.60 177.00,570.55 170.20,570.55" fill="#fff" stroke="#c9c52e" stroke-width="1.3"/>
<circle cx="73.10" cy="581.14" r="2.8" fill="#fff" stroke="#a632c8" stroke-width="1.4"/>
<circle cx="93.20" cy="577.36" r="2.8" fill="#fff" stroke="#a632c8" stroke-width="1.4"/>
<circle cx="133.40" cy="594.28" r="2.8" fill="#fff" stroke="#a632c8" stroke-width="1.4"/>
<circle cx="173.60" cy="565.48" r="2.8" fill="#fff" stroke="#a632c8" stroke-width="1.4"/>
<circle cx="193.70" cy="543.70" r="2.8" fill="#fff" stroke="#a632c8" stroke-width="1.4"/>
<circle cx="213.80" cy="542.26" r="2.8" fill="#fff" stroke="#a632c8" stroke-width="1.4"/>
<rect x="70.30" y="590.04" width="5.60" height="5.60" fill="#fff" stroke="#1a23a8" stroke-width="1.4"/>
<rect x="150.70" y="570.78" width="5.60" height="5.60" fill="#fff" stroke="#1a23a8" stroke-width="1.4"/>
<rect x="190.90" y="528.66" width="5.60" height="5.60" fill="#fff" stroke="#1a23a8" stroke-width="1.4"/>
<rect x="211.00" y="531.18" width="5.60" height="5.60" fill="#fff" stroke="#1a23a8" stroke-width="1.4"/>
<polygon points="73.10,588.30 76.80,595.02 69.40,595.02" fill="#22b022"/>
<polygon points="93.20,590.28 96.90,597.00 89.50,597.00" fill="#22b022"/>
<polygon points="113.30,591.72 117.00,598.44 109.60,598.44" fill="#22b022"/>
<polygon points="153.50,588.84 157.20,595.56 149.80,595.56" fill="#22b022"/>
<polygon points="173.60,563.64 177.30,570.36 169.90,570.36" fill="#22b022"/>
<polygon points="193.70,546.72 197.40,553.44 190.00,553.44" fill="#22b022"/>
<polygon points="213.80,530.70 217.50,537.42 210.10,537.42" fill="#22b022"/>
<rect x="69.70" y="594.84" width="6.80" height="6.80" fill="#f7901e"/>
<rect x="89.80" y="584.58" width="6.80" height="6.80" fill="#f7901e"/>
<rect x="109.90" y="581.52" width="6.80" height="6.80" fill="#f7901e"/>
<rect x="130.00" y="577.02" width="6.80" height="6.80" fill="#f7901e"/>
<rect x="150.10" y="583.68" width="6.80" height="6.80" fill="#f7901e"/>
<rect x="170.20" y="566.40" width="6.80" height="6.80" fill="#f7901e"/>
<rect x="190.30" y="540.30" width="6.80" height="6.80" fill="#f7901e"/>
<rect x="210.40" y="537.24" width="6.80" height="6.80" fill="#f7901e"/>
<circle cx="73.10" cy="588.52" r="3.4" fill="#ee1c1c"/>
<circle cx="93.20" cy="582.58" r="3.4" fill="#ee1c1c"/>
<circle cx="113.30" cy="584.92" r="3.4" fill="#ee1c1c"/>
<circle cx="133.40" cy="583.48" r="3.4" fill="#ee1c1c"/>
<circle cx="153.50" cy="584.20" r="3.4" fill="#ee1c1c"/>
<circle cx="173.60" cy="581.68" r="3.4" fill="#ee1c1c"/>
<circle cx="193.70" cy="564.40" r="3.4" fill="#ee1c1c"/>
<circle cx="213.80" cy="563.50" r="3.4" fill="#ee1c1c"/>
<line x1="374.40" y1="482.60" x2="396.40" y2="482.60" stroke="#ee1c1c" stroke-width="1.5" />
<circle cx="385.40" cy="482.60" r="3.0" fill="#ee1c1c"/>
<text transform="translate(376.48,509.70) scale(0.8763,1)" font-size="19.19" fill="#000"><tspan font-weight="bold">R1</tspan></text>
<line x1="421.80" y1="482.60" x2="443.80" y2="482.60" stroke="#f7901e" stroke-width="1.5" />
<rect x="429.80" y="479.60" width="6.00" height="6.00" fill="#f7901e"/>
<text transform="translate(421.71,509.70) scale(0.9438,1)" font-size="18.90" fill="#000"><tspan font-weight="bold">R2</tspan></text>
<line x1="464.20" y1="482.60" x2="486.20" y2="482.60" stroke="#22b022" stroke-width="1.5" />
<polygon points="475.20,479.00 478.50,485.00 471.90,485.00" fill="#22b022"/>
<text transform="translate(465.83,509.49) scale(0.9375,1)" font-size="18.61" fill="#000"><tspan font-weight="bold">R3</tspan></text>
<line x1="510.70" y1="482.60" x2="532.70" y2="482.60" stroke="#a632c8" stroke-width="1.5" />
<circle cx="521.70" cy="482.60" r="2.4" fill="#fff" stroke="#a632c8" stroke-width="1.4"/>
<text transform="translate(510.65,509.70) scale(0.8946,1)" font-size="19.19" fill="#000"><tspan font-weight="bold">R4</tspan></text>
<line x1="554.20" y1="482.60" x2="576.20" y2="482.60" stroke="#1a23a8" stroke-width="1.5" />
<rect x="562.80" y="480.20" width="4.80" height="4.80" fill="#fff" stroke="#1a23a8" stroke-width="1.4"/>
<text transform="translate(553.40,509.52) scale(0.9468,1)" font-size="18.92" fill="#000"><tspan font-weight="bold">R5</tspan></text>
<line x1="597.90" y1="482.60" x2="619.90" y2="482.60" stroke="#c9c52e" stroke-width="1.5" />
<polygon points="608.90,479.60 611.90,484.85 605.90,484.85" fill="#fff" stroke="#c9c52e" stroke-width="1.3"/>
<text transform="translate(598.20,509.52) scale(0.9584,1)" font-size="18.64" fill="#000"><tspan font-weight="bold">R6</tspan></text>
<line x1="254.20" y1="516.60" x2="632.40" y2="516.60" stroke="#000" stroke-width="1.6" />
<line x1="254.20" y1="576.20" x2="632.40" y2="576.20" stroke="#000" stroke-width="1.6" />
<line x1="254.20" y1="631.70" x2="632.40" y2="631.70" stroke="#000" stroke-width="1.3" />
<text transform="translate(254.61,542.87) scale(0.9597,1)" font-size="18.45" fill="#000"><tspan >killing EC</tspan><tspan font-size="11.44">50</tspan></text>
<text transform="translate(267.60,565.77) scale(0.9314,1)" font-size="19.00" fill="#000"><tspan >(nmol/L)</tspan></text>
<text transform="translate(250.33,594.78) scale(0.9328,1)" font-size="18.88" fill="#000"><tspan >maximal lysis</tspan></text>
<text transform="translate(289.69,617.38) scale(0.9689,1)" font-size="18.46" fill="#000"><tspan >(%)</tspan></text>
<text transform="translate(365.81,549.82) scale(0.9649,1)" font-size="18.36" fill="#000"><tspan >24.0</tspan></text>
<text transform="translate(414.34,550.00) scale(0.9480,1)" font-size="18.90" fill="#000"><tspan >14.7</tspan></text>
<text transform="translate(462.37,549.82) scale(0.9511,1)" font-size="18.36" fill="#000"><tspan >18.8</tspan></text>
<text transform="translate(507.46,549.82) scale(0.8857,1)" font-size="18.36" fill="#000"><tspan >13.6</tspan></text>
<text transform="translate(549.89,549.82) scale(0.9397,1)" font-size="18.36" fill="#000"><tspan >10.2</tspan></text>
<text transform="translate(597.27,550.00) scale(0.8677,1)" font-size="18.62" fill="#000"><tspan >12.7</tspan></text>
<text transform="translate(368.84,610.02) scale(0.9545,1)" font-size="17.94" fill="#000"><tspan >23.7</tspan></text>
<text transform="translate(419.75,610.02) scale(0.9569,1)" font-size="17.94" fill="#000"><tspan >36.3</tspan></text>
<text transform="translate(466.33,610.02) scale(0.9782,1)" font-size="17.94" fill="#000"><tspan >39.2</tspan></text>
<text transform="translate(511.05,610.02) scale(0.9537,1)" font-size="17.94" fill="#000"><tspan >34.8</tspan></text>
<text transform="translate(553.91,610.20) scale(0.9248,1)" font-size="18.46" fill="#000"><tspan >44.1</tspan></text>
<text transform="translate(598.11,610.02) scale(0.9492,1)" font-size="17.94" fill="#000"><tspan >45.3</tspan></text>
<line x1="698.50" y1="35.10" x2="959.00" y2="35.10" stroke="#4aaad6" stroke-width="1.6" />
<line x1="977.50" y1="35.10" x2="1269.00" y2="35.10" stroke="#4aaad6" stroke-width="1.6" />
<text transform="translate(765.66,26.92) scale(1.1003,1)" font-size="18.25" fill="#000"><tspan >in normal mice</tspan></text>
<text transform="translate(977.67,27.30) scale(1.0576,1)" font-size="18.77" fill="#000"><tspan >in Rha-OVA pre-immunized mice</tspan></text>
<line x1="746.30" y1="72.80" x2="746.30" y2="191.80" stroke="#000" stroke-width="1.8" />
<line x1="745.40" y1="190.80" x2="915.00" y2="190.80" stroke="#000" stroke-width="1.9" />
<line x1="742.80" y1="190.80" x2="746.30" y2="190.80" stroke="#000" stroke-width="1.5" />
<text transform="translate(729.16,198.25) scale(0.9900,1)" font-size="20.20" fill="#000"><tspan >0</tspan></text>
<line x1="742.80" y1="167.36" x2="746.30" y2="167.36" stroke="#000" stroke-width="1.5" />
<text transform="translate(706.92,174.81) scale(0.9900,1)" font-size="20.20" fill="#000"><tspan >100</tspan></text>
<line x1="742.80" y1="143.92" x2="746.30" y2="143.92" stroke="#000" stroke-width="1.5" />
<text transform="translate(706.92,151.37) scale(0.9900,1)" font-size="20.20" fill="#000"><tspan >200</tspan></text>
<line x1="742.80" y1="120.48" x2="746.30" y2="120.48" stroke="#000" stroke-width="1.5" />
<text transform="translate(706.92,127.93) scale(0.9900,1)" font-size="20.20" fill="#000"><tspan >300</tspan></text>
<line x1="742.80" y1="97.04" x2="746.30" y2="97.04" stroke="#000" stroke-width="1.5" />
<text transform="translate(706.92,104.49) scale(0.9900,1)" font-size="20.20" fill="#000"><tspan >400</tspan></text>
<line x1="742.80" y1="73.60" x2="746.30" y2="73.60" stroke="#000" stroke-width="1.5" />
<text transform="translate(706.92,81.05) scale(0.9900,1)" font-size="20.20" fill="#000"><tspan >500</tspan></text>
<line x1="746.30" y1="190.80" x2="746.30" y2="194.60" stroke="#000" stroke-width="1.5" />
<text transform="translate(741.04,211.20) scale(0.9900,1)" font-size="20.20" fill="#000"><tspan >0</tspan></text>
<line x1="802.27" y1="190.80" x2="802.27" y2="194.60" stroke="#000" stroke-width="1.5" />
<text transform="translate(786.47,211.20) scale(0.9900,1)" font-size="20.20" fill="#000"><tspan >200</tspan></text>
<line x1="858.23" y1="190.80" x2="858.23" y2="194.60" stroke="#000" stroke-width="1.5" />
<text transform="translate(840.71,211.20) scale(0.9900,1)" font-size="20.20" fill="#000"><tspan >400</tspan></text>
<line x1="914.20" y1="190.80" x2="914.20" y2="194.60" stroke="#000" stroke-width="1.5" />
<text transform="translate(894.40,211.20) scale(0.9900,1)" font-size="20.20" fill="#000"><tspan >600</tspan></text>
<text transform="translate(930.69,210.20) scale(1.1918,1)" font-size="17.80" fill="#000"><tspan >min</tspan></text>
<text transform="translate(698.12,155.34) rotate(-90) scale(1.0728,1)" font-size="18.79" fill="#000"><tspan >nmol/L</tspan></text>
<polyline points="746.30,87.66 747.14,97.69 747.98,106.66 748.82,114.68 749.66,121.87 750.50,128.30 751.34,134.05 752.18,139.20 753.02,143.81 753.86,147.93 754.69,151.62 755.53,154.93 756.37,157.88 757.21,160.53 758.05,162.90 758.89,165.02 759.73,166.91 760.57,168.61 761.41,170.13 762.25,171.49 763.09,172.70 763.93,173.79 764.77,174.77 765.61,175.64 766.45,176.42 767.29,177.12 768.13,177.74 768.97,178.30 769.81,178.80 770.65,179.25 771.49,179.65 772.32,180.01 773.16,180.33 774.00,180.62 774.84,180.87 775.68,181.10 776.52,181.31 777.36,181.49 778.20,181.66 779.04,181.81 779.88,181.94 780.72,182.06 781.56,182.16 782.40,182.26 783.24,182.34 784.08,182.42 784.92,182.49 785.76,182.55 786.60,182.60 787.44,182.65 788.27,182.69 789.11,182.73 789.95,182.77 790.79,182.80 791.63,182.83 792.47,182.85 793.31,182.87 794.15,182.89 794.99,182.91 795.83,182.93 796.67,182.94 797.51,182.96 798.35,182.97 799.19,182.98 800.03,182.99 800.87,182.99 801.71,183.00 802.55,183.01 803.39,183.01 804.23,183.02 805.06,183.02 805.90,183.03 806.74,183.03 807.58,183.04 808.42,183.04 809.26,183.04 810.10,183.04 810.94,183.05 811.78,183.05 812.62,183.05 813.46,183.05 814.30,183.05 815.14,183.05 815.98,183.06 816.82,183.06 817.66,183.06 818.50,183.06 819.34,183.06 820.18,183.06 821.02,183.06 821.86,183.06 822.69,183.06 823.53,183.06 824.37,183.06 825.21,183.06 826.05,183.06 826.89,183.06 827.73,183.06 828.57,183.06 829.41,183.06 830.25,183.06 831.09,183.06 831.93,183.06 832.77,183.06 833.61,183.06 834.45,183.06 835.29,183.06 836.13,183.06 836.97,183.06 837.81,183.06 838.64,183.06 839.48,183.06 840.32,183.06 841.16,183.06 842.00,183.06 842.84,183.06 843.68,183.06 844.52,183.06 845.36,183.06 846.20,183.06 847.04,183.06 847.88,183.06 848.72,183.06 849.56,183.06 850.40,183.06 851.24,183.06 852.08,183.06 852.92,183.06 853.76,183.06 854.60,183.06 855.44,183.06 856.27,183.06 857.11,183.06 857.95,183.06 858.79,183.06 859.63,183.06 860.47,183.06 861.31,183.06 862.15,183.06 862.99,183.06 863.83,183.06 864.67,183.06 865.51,183.06 866.35,183.06 867.19,183.06 868.03,183.06 868.87,183.06 869.71,183.06 870.55,183.06 871.39,183.06 872.23,183.06 873.06,183.06 873.90,183.06 874.74,183.06 875.58,183.06 876.42,183.06 877.26,183.06 878.10,183.06 878.94,183.06 879.78,183.06 880.62,183.06" fill="none" stroke="#000" stroke-width="1.6" />
<circle cx="747.70" cy="100.56" r="3.2" fill="#000"/>
<circle cx="749.10" cy="127.04" r="3.2" fill="#000"/>
<circle cx="750.78" cy="143.69" r="3.2" fill="#000"/>
<circle cx="754.97" cy="150.48" r="3.2" fill="#000"/>
<circle cx="763.09" cy="170.17" r="3.2" fill="#000"/>
<circle cx="779.88" cy="184.24" r="3.2" fill="#000"/>
<circle cx="813.46" cy="184.24" r="3.2" fill="#000"/>
<circle cx="880.62" cy="185.17" r="3.2" fill="#000"/>
<line x1="746.30" y1="236.20" x2="746.30" y2="354.40" stroke="#000" stroke-width="1.8" />
<line x1="745.40" y1="353.40" x2="915.00" y2="353.40" stroke="#000" stroke-width="1.9" />
<line x1="742.80" y1="353.40" x2="746.30" y2="353.40" stroke="#000" stroke-width="1.5" />
<text transform="translate(729.16,360.85) scale(0.9900,1)" font-size="20.20" fill="#000"><tspan >0</tspan></text>
<line x1="742.80" y1="330.12" x2="746.30" y2="330.12" stroke="#000" stroke-width="1.5" />
<text transform="translate(706.92,337.57) scale(0.9900,1)" font-size="20.20" fill="#000"><tspan >100</tspan></text>
<line x1="742.80" y1="306.84" x2="746.30" y2="306.84" stroke="#000" stroke-width="1.5" />
<text transform="translate(706.92,314.29) scale(0.9900,1)" font-size="20.20" fill="#000"><tspan >200</tspan></text>
<line x1="742.80" y1="283.56" x2="746.30" y2="283.56" stroke="#000" stroke-width="1.5" />
<text transform="translate(706.92,291.01) scale(0.9900,1)" font-size="20.20" fill="#000"><tspan >300</tspan></text>
<line x1="742.80" y1="260.28" x2="746.30" y2="260.28" stroke="#000" stroke-width="1.5" />
<text transform="translate(706.92,267.73) scale(0.9900,1)" font-size="20.20" fill="#000"><tspan >400</tspan></text>
<line x1="742.80" y1="237.00" x2="746.30" y2="237.00" stroke="#000" stroke-width="1.5" />
<text transform="translate(706.92,244.45) scale(0.9900,1)" font-size="20.20" fill="#000"><tspan >500</tspan></text>
<line x1="746.30" y1="353.40" x2="746.30" y2="357.20" stroke="#000" stroke-width="1.5" />
<text transform="translate(741.04,373.80) scale(0.9900,1)" font-size="20.20" fill="#000"><tspan >0</tspan></text>
<line x1="802.27" y1="353.40" x2="802.27" y2="357.20" stroke="#000" stroke-width="1.5" />
<text transform="translate(786.47,373.80) scale(0.9900,1)" font-size="20.20" fill="#000"><tspan >200</tspan></text>
<line x1="858.23" y1="353.40" x2="858.23" y2="357.20" stroke="#000" stroke-width="1.5" />
<text transform="translate(840.71,373.80) scale(0.9900,1)" font-size="20.20" fill="#000"><tspan >400</tspan></text>
<line x1="914.20" y1="353.40" x2="914.20" y2="357.20" stroke="#000" stroke-width="1.5" />
<text transform="translate(894.40,373.80) scale(0.9900,1)" font-size="20.20" fill="#000"><tspan >600</tspan></text>
<text transform="translate(930.69,372.80) scale(1.1918,1)" font-size="17.80" fill="#000"><tspan >min</tspan></text>
<text transform="translate(698.12,318.34) rotate(-90) scale(1.0728,1)" font-size="18.79" fill="#000"><tspan >nmol/L</tspan></text>
<polyline points="746.30,280.07 747.14,285.21 747.98,289.96 748.82,294.33 749.66,298.37 750.50,302.09 751.34,305.52 752.18,308.68 753.02,311.60 753.86,314.29 754.69,316.77 755.53,319.06 756.37,321.17 757.21,323.12 758.05,324.91 758.89,326.57 759.73,328.09 760.57,329.50 761.41,330.80 762.25,332.00 763.09,333.10 763.93,334.12 764.77,335.06 765.61,335.92 766.45,336.72 767.29,337.46 768.13,338.14 768.97,338.76 769.81,339.34 770.65,339.87 771.49,340.36 772.32,340.82 773.16,341.23 774.00,341.62 774.84,341.97 775.68,342.30 776.52,342.60 777.36,342.88 778.20,343.14 779.04,343.38 779.88,343.59 780.72,343.80 781.56,343.98 782.40,344.15 783.24,344.31 784.08,344.46 784.92,344.59 785.76,344.71 786.60,344.83 787.44,344.93 788.27,345.03 789.11,345.12 789.95,345.20 790.79,345.28 791.63,345.35 792.47,345.41 793.31,345.47 794.15,345.53 794.99,345.58 795.83,345.63 796.67,345.67 797.51,345.71 798.35,345.75 799.19,345.78 800.03,345.81 800.87,345.84 801.71,345.87 802.55,345.89 803.39,345.92 804.23,345.94 805.06,345.96 805.90,345.97 806.74,345.99 807.58,346.00 808.42,346.02 809.26,346.03 810.10,346.04 810.94,346.05 811.78,346.06 812.62,346.07 813.46,346.08 814.30,346.09 815.14,346.10 815.98,346.10 816.82,346.11 817.66,346.12 818.50,346.12 819.34,346.13 820.18,346.13 821.02,346.13 821.86,346.14 822.69,346.14 823.53,346.14 824.37,346.15 825.21,346.15 826.05,346.15 826.89,346.16 827.73,346.16 828.57,346.16 829.41,346.16 830.25,346.16 831.09,346.16 831.93,346.17 832.77,346.17 833.61,346.17 834.45,346.17 835.29,346.17 836.13,346.17 836.97,346.17 837.81,346.17 838.64,346.17 839.48,346.17 840.32,346.18 841.16,346.18 842.00,346.18 842.84,346.18 843.68,346.18 844.52,346.18 845.36,346.18 846.20,346.18 847.04,346.18 847.88,346.18 848.72,346.18 849.56,346.18 850.40,346.18 851.24,346.18 852.08,346.18 852.92,346.18 853.76,346.18 854.60,346.18 855.44,346.18 856.27,346.18 857.11,346.18 857.95,346.18 858.79,346.18 859.63,346.18 860.47,346.18 861.31,346.18 862.15,346.18 862.99,346.18 863.83,346.18 864.67,346.18 865.51,346.18 866.35,346.18 867.19,346.18 868.03,346.18 868.87,346.18 869.71,346.18 870.55,346.18 871.39,346.18 872.23,346.18 873.06,346.18 873.90,346.18 874.74,346.18 875.58,346.18 876.42,346.18 877.26,346.18 878.10,346.18 878.94,346.18 879.78,346.18 880.62,346.18" fill="none" stroke="#000" stroke-width="1.6" />
<circle cx="747.70" cy="282.63" r="3.2" fill="#000"/>
<circle cx="749.10" cy="299.86" r="3.2" fill="#000"/>
<circle cx="750.78" cy="311.73" r="3.2" fill="#000"/>
<circle cx="754.97" cy="320.58" r="3.2" fill="#000"/>
<circle cx="763.37" cy="332.45" r="3.2" fill="#000"/>
<circle cx="779.88" cy="341.99" r="3.2" fill="#000"/>
<circle cx="813.46" cy="346.88" r="3.2" fill="#000"/>
<circle cx="880.62" cy="349.68" r="3.2" fill="#000"/>
<line x1="746.30" y1="392.80" x2="746.30" y2="511.50" stroke="#000" stroke-width="1.8" />
<line x1="745.40" y1="510.50" x2="915.00" y2="510.50" stroke="#000" stroke-width="1.9" />
<line x1="742.80" y1="510.50" x2="746.30" y2="510.50" stroke="#000" stroke-width="1.5" />
<text transform="translate(731.66,517.95) scale(0.9900,1)" font-size="20.20" fill="#000"><tspan >0</tspan></text>
<line x1="742.80" y1="487.12" x2="746.30" y2="487.12" stroke="#000" stroke-width="1.5" />
<text transform="translate(709.42,494.57) scale(0.9900,1)" font-size="20.20" fill="#000"><tspan >100</tspan></text>
<line x1="742.80" y1="463.74" x2="746.30" y2="463.74" stroke="#000" stroke-width="1.5" />
<text transform="translate(709.42,471.19) scale(0.9900,1)" font-size="20.20" fill="#000"><tspan >200</tspan></text>
<line x1="742.80" y1="440.36" x2="746.30" y2="440.36" stroke="#000" stroke-width="1.5" />
<text transform="translate(709.42,447.81) scale(0.9900,1)" font-size="20.20" fill="#000"><tspan >300</tspan></text>
<line x1="742.80" y1="416.98" x2="746.30" y2="416.98" stroke="#000" stroke-width="1.5" />
<text transform="translate(709.42,424.43) scale(0.9900,1)" font-size="20.20" fill="#000"><tspan >400</tspan></text>
<line x1="742.80" y1="393.60" x2="746.30" y2="393.60" stroke="#000" stroke-width="1.5" />
<text transform="translate(709.42,401.05) scale(0.9900,1)" font-size="20.20" fill="#000"><tspan >500</tspan></text>
<line x1="746.30" y1="510.50" x2="746.30" y2="514.30" stroke="#000" stroke-width="1.5" />
<text transform="translate(741.04,530.90) scale(0.9900,1)" font-size="20.20" fill="#000"><tspan >0</tspan></text>
<line x1="802.27" y1="510.50" x2="802.27" y2="514.30" stroke="#000" stroke-width="1.5" />
<text transform="translate(786.47,530.90) scale(0.9900,1)" font-size="20.20" fill="#000"><tspan >200</tspan></text>
<line x1="858.23" y1="510.50" x2="858.23" y2="514.30" stroke="#000" stroke-width="1.5" />
<text transform="translate(840.71,530.90) scale(0.9900,1)" font-size="20.20" fill="#000"><tspan >400</tspan></text>
<line x1="914.20" y1="510.50" x2="914.20" y2="514.30" stroke="#000" stroke-width="1.5" />
<text transform="translate(894.40,530.90) scale(0.9900,1)" font-size="20.20" fill="#000"><tspan >600</tspan></text>
<text transform="translate(930.69,529.90) scale(1.1918,1)" font-size="17.80" fill="#000"><tspan >min</tspan></text>
<text transform="translate(700.31,472.82) rotate(-90) scale(1.0176,1)" font-size="19.47" fill="#000"><tspan >nmol/L</tspan></text>
<polyline points="746.30,409.97 747.14,413.19 747.98,416.30 748.82,419.29 749.66,422.18 750.50,424.96 751.34,427.63 752.18,430.21 753.02,432.69 753.86,435.08 754.69,437.38 755.53,439.60 756.37,441.74 757.21,443.79 758.05,445.78 758.89,447.69 759.73,449.52 760.57,451.29 761.41,453.00 762.25,454.64 763.09,456.23 763.93,457.75 764.77,459.22 765.61,460.63 766.45,462.00 767.29,463.31 768.13,464.57 768.97,465.79 769.81,466.96 770.65,468.09 771.49,469.18 772.32,470.22 773.16,471.23 774.00,472.21 774.84,473.14 775.68,474.04 776.52,474.91 777.36,475.75 778.20,476.55 779.04,477.33 779.88,478.08 780.72,478.80 781.56,479.49 782.40,480.16 783.24,480.80 784.08,481.42 784.92,482.02 785.76,482.59 786.60,483.15 787.44,483.68 788.27,484.20 789.11,484.69 789.95,485.17 790.79,485.63 791.63,486.07 792.47,486.49 793.31,486.90 794.15,487.30 794.99,487.68 795.83,488.05 796.67,488.40 797.51,488.74 798.35,489.07 799.19,489.38 800.03,489.69 800.87,489.98 801.71,490.26 802.55,490.53 803.39,490.80 804.23,491.05 805.06,491.29 805.90,491.52 806.74,491.75 807.58,491.97 808.42,492.17 809.26,492.38 810.10,492.57 810.94,492.76 811.78,492.94 812.62,493.11 813.46,493.28 814.30,493.44 815.14,493.59 815.98,493.74 816.82,493.88 817.66,494.02 818.50,494.16 819.34,494.28 820.18,494.41 821.02,494.53 821.86,494.64 822.69,494.75 823.53,494.86 824.37,494.96 825.21,495.06 826.05,495.15 826.89,495.25 827.73,495.33 828.57,495.42 829.41,495.50 830.25,495.58 831.09,495.65 831.93,495.73 832.77,495.80 833.61,495.87 834.45,495.93 835.29,495.99 836.13,496.06 836.97,496.11 837.81,496.17 838.64,496.22 839.48,496.28 840.32,496.33 841.16,496.37 842.00,496.42 842.84,496.47 843.68,496.51 844.52,496.55 845.36,496.59 846.20,496.63 847.04,496.67 847.88,496.70 848.72,496.74 849.56,496.77 850.40,496.80 851.24,496.83 852.08,496.86 852.92,496.89 853.76,496.92 854.60,496.95 855.44,496.97 856.27,497.00 857.11,497.02 857.95,497.04 858.79,497.06 859.63,497.09 860.47,497.11 861.31,497.13 862.15,497.15 862.99,497.16 863.83,497.18 864.67,497.20 865.51,497.21 866.35,497.23 867.19,497.25 868.03,497.26 868.87,497.27 869.71,497.29 870.55,497.30 871.39,497.31 872.23,497.32 873.06,497.34 873.90,497.35 874.74,497.36 875.58,497.37 876.42,497.38 877.26,497.39 878.10,497.40 878.94,497.41 879.78,497.42 880.62,497.42" fill="none" stroke="#000" stroke-width="1.6" />
<circle cx="747.42" cy="409.03" r="3.2" fill="#000"/>
<circle cx="749.38" cy="428.44" r="3.2" fill="#000"/>
<circle cx="754.69" cy="435.45" r="3.2" fill="#000"/>
<circle cx="763.09" cy="440.36" r="3.2" fill="#000"/>
<circle cx="779.60" cy="488.99" r="3.2" fill="#000"/>
<circle cx="813.46" cy="493.90" r="3.2" fill="#000"/>
<circle cx="880.62" cy="493.90" r="3.2" fill="#000"/>
<line x1="746.30" y1="553.00" x2="746.30" y2="672.50" stroke="#000" stroke-width="1.8" />
<line x1="745.40" y1="671.50" x2="915.00" y2="671.50" stroke="#000" stroke-width="1.9" />
<line x1="742.80" y1="671.50" x2="746.30" y2="671.50" stroke="#000" stroke-width="1.5" />
<text transform="translate(729.16,678.95) scale(0.9900,1)" font-size="20.20" fill="#000"><tspan >0</tspan></text>
<line x1="742.80" y1="647.96" x2="746.30" y2="647.96" stroke="#000" stroke-width="1.5" />
<text transform="translate(706.92,655.41) scale(0.9900,1)" font-size="20.20" fill="#000"><tspan >100</tspan></text>
<line x1="742.80" y1="624.42" x2="746.30" y2="624.42" stroke="#000" stroke-width="1.5" />
<text transform="translate(706.92,631.87) scale(0.9900,1)" font-size="20.20" fill="#000"><tspan >200</tspan></text>
<line x1="742.80" y1="600.88" x2="746.30" y2="600.88" stroke="#000" stroke-width="1.5" />
<text transform="translate(706.92,608.33) scale(0.9900,1)" font-size="20.20" fill="#000"><tspan >300</tspan></text>
<line x1="742.80" y1="577.34" x2="746.30" y2="577.34" stroke="#000" stroke-width="1.5" />
<text transform="translate(706.92,584.79) scale(0.9900,1)" font-size="20.20" fill="#000"><tspan >400</tspan></text>
<line x1="742.80" y1="553.80" x2="746.30" y2="553.80" stroke="#000" stroke-width="1.5" />
<text transform="translate(706.92,561.25) scale(0.9900,1)" font-size="20.20" fill="#000"><tspan >500</tspan></text>
<line x1="746.30" y1="671.50" x2="746.30" y2="675.30" stroke="#000" stroke-width="1.5" />
<text transform="translate(741.04,691.90) scale(0.9900,1)" font-size="20.20" fill="#000"><tspan >0</tspan></text>
<line x1="802.27" y1="671.50" x2="802.27" y2="675.30" stroke="#000" stroke-width="1.5" />
<text transform="translate(786.47,691.90) scale(0.9900,1)" font-size="20.20" fill="#000"><tspan >200</tspan></text>
<line x1="858.23" y1="671.50" x2="858.23" y2="675.30" stroke="#000" stroke-width="1.5" />
<text transform="translate(840.71,691.90) scale(0.9900,1)" font-size="20.20" fill="#000"><tspan >400</tspan></text>
<line x1="914.20" y1="671.50" x2="914.20" y2="675.30" stroke="#000" stroke-width="1.5" />
<text transform="translate(894.40,691.90) scale(0.9900,1)" font-size="20.20" fill="#000"><tspan >600</tspan></text>
<text transform="translate(930.69,690.90) scale(1.1918,1)" font-size="17.80" fill="#000"><tspan >min</tspan></text>
<text transform="translate(698.12,635.34) rotate(-90) scale(1.0728,1)" font-size="18.79" fill="#000"><tspan >nmol/L</tspan></text>
<polyline points="746.30,577.34 747.14,580.24 747.98,583.04 748.82,585.73 749.66,588.32 750.50,590.82 751.34,593.23 752.18,595.55 753.02,597.78 753.86,599.93 754.69,602.00 755.53,603.99 756.37,605.92 757.21,607.77 758.05,609.55 758.89,611.27 759.73,612.92 760.57,614.51 761.41,616.05 762.25,617.53 763.09,618.95 763.93,620.32 764.77,621.64 765.61,622.91 766.45,624.14 767.29,625.32 768.13,626.45 768.97,627.55 769.81,628.60 770.65,629.62 771.49,630.60 772.32,631.54 773.16,632.45 774.00,633.32 774.84,634.16 775.68,634.97 776.52,635.76 777.36,636.51 778.20,637.23 779.04,637.93 779.88,638.60 780.72,639.25 781.56,639.87 782.40,640.48 783.24,641.05 784.08,641.61 784.92,642.15 785.76,642.67 786.60,643.16 787.44,643.64 788.27,644.11 789.11,644.55 789.95,644.98 790.79,645.39 791.63,645.79 792.47,646.17 793.31,646.54 794.15,646.90 794.99,647.24 795.83,647.57 796.67,647.89 797.51,648.19 798.35,648.49 799.19,648.77 800.03,649.05 800.87,649.31 801.71,649.56 802.55,649.81 803.39,650.04 804.23,650.27 805.06,650.49 805.90,650.70 806.74,650.90 807.58,651.09 808.42,651.28 809.26,651.46 810.10,651.64 810.94,651.81 811.78,651.97 812.62,652.12 813.46,652.27 814.30,652.42 815.14,652.56 815.98,652.69 816.82,652.82 817.66,652.94 818.50,653.06 819.34,653.18 820.18,653.29 821.02,653.40 821.86,653.50 822.69,653.60 823.53,653.70 824.37,653.79 825.21,653.88 826.05,653.96 826.89,654.04 827.73,654.12 828.57,654.20 829.41,654.27 830.25,654.34 831.09,654.41 831.93,654.48 832.77,654.54 833.61,654.60 834.45,654.66 835.29,654.72 836.13,654.77 836.97,654.83 837.81,654.88 838.64,654.92 839.48,654.97 840.32,655.02 841.16,655.06 842.00,655.10 842.84,655.14 843.68,655.18 844.52,655.22 845.36,655.25 846.20,655.29 847.04,655.32 847.88,655.36 848.72,655.39 849.56,655.42 850.40,655.44 851.24,655.47 852.08,655.50 852.92,655.53 853.76,655.55 854.60,655.57 855.44,655.60 856.27,655.62 857.11,655.64 857.95,655.66 858.79,655.68 859.63,655.70 860.47,655.72 861.31,655.74 862.15,655.75 862.99,655.77 863.83,655.79 864.67,655.80 865.51,655.82 866.35,655.83 867.19,655.84 868.03,655.86 868.87,655.87 869.71,655.88 870.55,655.89 871.39,655.90 872.23,655.91 873.06,655.93 873.90,655.94 874.74,655.94 875.58,655.95 876.42,655.96 877.26,655.97 878.10,655.98 878.94,655.99 879.78,656.00 880.62,656.00" fill="none" stroke="#000" stroke-width="1.6" />
<circle cx="747.70" cy="575.93" r="3.2" fill="#000"/>
<circle cx="749.10" cy="585.81" r="3.2" fill="#000"/>
<circle cx="754.97" cy="600.17" r="3.2" fill="#000"/>
<circle cx="763.37" cy="607.47" r="3.2" fill="#000"/>
<circle cx="779.88" cy="640.19" r="3.2" fill="#000"/>
<circle cx="813.46" cy="649.84" r="3.2" fill="#000"/>
<circle cx="880.90" cy="654.32" r="3.2" fill="#000"/>
<line x1="1038.00" y1="72.80" x2="1038.00" y2="192.30" stroke="#000" stroke-width="1.8" />
<line x1="1037.10" y1="191.30" x2="1205.70" y2="191.30" stroke="#000" stroke-width="1.9" />
<line x1="1034.50" y1="191.30" x2="1038.00" y2="191.30" stroke="#000" stroke-width="1.5" />
<text transform="translate(1018.96,198.75) scale(0.9900,1)" font-size="20.20" fill="#000"><tspan >0</tspan></text>
<line x1="1034.50" y1="167.76" x2="1038.00" y2="167.76" stroke="#000" stroke-width="1.5" />
<text transform="translate(996.72,175.21) scale(0.9900,1)" font-size="20.20" fill="#000"><tspan >100</tspan></text>
<line x1="1034.50" y1="144.22" x2="1038.00" y2="144.22" stroke="#000" stroke-width="1.5" />
<text transform="translate(996.72,151.67) scale(0.9900,1)" font-size="20.20" fill="#000"><tspan >200</tspan></text>
<line x1="1034.50" y1="120.68" x2="1038.00" y2="120.68" stroke="#000" stroke-width="1.5" />
<text transform="translate(996.72,128.13) scale(0.9900,1)" font-size="20.20" fill="#000"><tspan >300</tspan></text>
<line x1="1034.50" y1="97.14" x2="1038.00" y2="97.14" stroke="#000" stroke-width="1.5" />
<text transform="translate(996.72,104.59) scale(0.9900,1)" font-size="20.20" fill="#000"><tspan >400</tspan></text>
<line x1="1034.50" y1="73.60" x2="1038.00" y2="73.60" stroke="#000" stroke-width="1.5" />
<text transform="translate(996.72,81.05) scale(0.9900,1)" font-size="20.20" fill="#000"><tspan >500</tspan></text>
<line x1="1038.00" y1="191.30" x2="1038.00" y2="195.10" stroke="#000" stroke-width="1.5" />
<text transform="translate(1033.14,211.70) scale(0.9900,1)" font-size="20.20" fill="#000"><tspan >0</tspan></text>
<line x1="1093.63" y1="191.30" x2="1093.63" y2="195.10" stroke="#000" stroke-width="1.5" />
<text transform="translate(1076.44,211.70) scale(0.9900,1)" font-size="20.20" fill="#000"><tspan >200</tspan></text>
<line x1="1149.27" y1="191.30" x2="1149.27" y2="195.10" stroke="#000" stroke-width="1.5" />
<text transform="translate(1131.74,211.70) scale(0.9900,1)" font-size="20.20" fill="#000"><tspan >400</tspan></text>
<line x1="1204.90" y1="191.30" x2="1204.90" y2="195.10" stroke="#000" stroke-width="1.5" />
<text transform="translate(1186.10,211.70) scale(0.9900,1)" font-size="20.20" fill="#000"><tspan >600</tspan></text>
<text transform="translate(1222.74,210.70) scale(1.1538,1)" font-size="17.80" fill="#000"><tspan >min</tspan></text>
<text transform="translate(988.81,154.83) rotate(-90) scale(1.0123,1)" font-size="19.74" fill="#000"><tspan >nmol/L</tspan></text>
<polyline points="1038.00,87.72 1038.83,98.73 1039.67,108.44 1040.50,116.99 1041.34,124.54 1042.17,131.19 1043.01,137.05 1043.84,142.22 1044.68,146.77 1045.51,150.79 1046.35,154.33 1047.18,157.45 1048.01,160.21 1048.85,162.63 1049.68,164.77 1050.52,166.66 1051.35,168.32 1052.19,169.79 1053.02,171.08 1053.86,172.22 1054.69,173.23 1055.52,174.11 1056.36,174.89 1057.19,175.58 1058.03,176.19 1058.86,176.72 1059.70,177.19 1060.53,177.61 1061.37,177.98 1062.20,178.30 1063.04,178.58 1063.87,178.84 1064.70,179.06 1065.54,179.25 1066.37,179.43 1067.21,179.58 1068.04,179.71 1068.88,179.83 1069.71,179.93 1070.55,180.02 1071.38,180.11 1072.21,180.18 1073.05,180.24 1073.88,180.29 1074.72,180.34 1075.55,180.39 1076.39,180.42 1077.22,180.46 1078.06,180.49 1078.89,180.51 1079.72,180.54 1080.56,180.56 1081.39,180.57 1082.23,180.59 1083.06,180.60 1083.90,180.62 1084.73,180.63 1085.57,180.64 1086.40,180.64 1087.24,180.65 1088.07,180.66 1088.90,180.66 1089.74,180.67 1090.57,180.67 1091.41,180.68 1092.24,180.68 1093.08,180.68 1093.91,180.69 1094.75,180.69 1095.58,180.69 1096.41,180.69 1097.25,180.69 1098.08,180.70 1098.92,180.70 1099.75,180.70 1100.59,180.70 1101.42,180.70 1102.26,180.70 1103.09,180.70 1103.93,180.70 1104.76,180.70 1105.59,180.70 1106.43,180.70 1107.26,180.70 1108.10,180.70 1108.93,180.70 1109.77,180.71 1110.60,180.71 1111.44,180.71 1112.27,180.71 1113.11,180.71 1113.94,180.71 1114.77,180.71 1115.61,180.71 1116.44,180.71 1117.28,180.71 1118.11,180.71 1118.95,180.71 1119.78,180.71 1120.62,180.71 1121.45,180.71 1122.28,180.71 1123.12,180.71 1123.95,180.71 1124.79,180.71 1125.62,180.71 1126.46,180.71 1127.29,180.71 1128.13,180.71 1128.96,180.71 1129.80,180.71 1130.63,180.71 1131.46,180.71 1132.30,180.71 1133.13,180.71 1133.97,180.71 1134.80,180.71 1135.64,180.71 1136.47,180.71 1137.31,180.71 1138.14,180.71 1138.97,180.71 1139.81,180.71 1140.64,180.71 1141.48,180.71 1142.31,180.71 1143.15,180.71 1143.98,180.71 1144.82,180.71 1145.65,180.71 1146.49,180.71 1147.32,180.71 1148.15,180.71 1148.99,180.71 1149.82,180.71 1150.66,180.71 1151.49,180.71 1152.33,180.71 1153.16,180.71 1154.00,180.71 1154.83,180.71 1155.66,180.71 1156.50,180.71 1157.33,180.71 1158.17,180.71 1159.00,180.71 1159.84,180.71 1160.67,180.71 1161.51,180.71 1162.34,180.71 1163.18,180.71 1164.01,180.71 1164.84,180.71 1165.68,180.71 1166.51,180.71 1167.35,180.71 1168.18,180.71 1169.02,180.71 1169.85,180.71 1170.69,180.71 1171.52,180.71" fill="none" stroke="#000" stroke-width="1.6" />
<circle cx="1039.67" cy="91.49" r="3.2" fill="#000"/>
<circle cx="1040.78" cy="122.33" r="3.2" fill="#000"/>
<circle cx="1042.45" cy="137.39" r="3.2" fill="#000"/>
<circle cx="1046.62" cy="144.46" r="3.2" fill="#000"/>
<circle cx="1055.25" cy="171.06" r="3.2" fill="#000"/>
<circle cx="1071.38" cy="175.29" r="3.2" fill="#000"/>
<circle cx="1105.04" cy="185.65" r="3.2" fill="#000"/>
<circle cx="1172.91" cy="186.12" r="3.2" fill="#000"/>
<line x1="1038.20" y1="236.00" x2="1038.20" y2="353.50" stroke="#000" stroke-width="1.8" />
<line x1="1037.30" y1="352.50" x2="1211.50" y2="352.50" stroke="#000" stroke-width="1.9" />
<line x1="1034.70" y1="352.50" x2="1038.20" y2="352.50" stroke="#000" stroke-width="1.5" />
<text transform="translate(1018.96,359.95) scale(0.9900,1)" font-size="20.20" fill="#000"><tspan >0</tspan></text>
<line x1="1034.70" y1="329.36" x2="1038.20" y2="329.36" stroke="#000" stroke-width="1.5" />
<text transform="translate(996.72,336.81) scale(0.9900,1)" font-size="20.20" fill="#000"><tspan >100</tspan></text>
<line x1="1034.70" y1="306.22" x2="1038.20" y2="306.22" stroke="#000" stroke-width="1.5" />
<text transform="translate(996.72,313.67) scale(0.9900,1)" font-size="20.20" fill="#000"><tspan >200</tspan></text>
<line x1="1034.70" y1="283.08" x2="1038.20" y2="283.08" stroke="#000" stroke-width="1.5" />
<text transform="translate(996.72,290.53) scale(0.9900,1)" font-size="20.20" fill="#000"><tspan >300</tspan></text>
<line x1="1034.70" y1="259.94" x2="1038.20" y2="259.94" stroke="#000" stroke-width="1.5" />
<text transform="translate(996.72,267.39) scale(0.9900,1)" font-size="20.20" fill="#000"><tspan >400</tspan></text>
<line x1="1034.70" y1="236.80" x2="1038.20" y2="236.80" stroke="#000" stroke-width="1.5" />
<text transform="translate(996.72,244.25) scale(0.9900,1)" font-size="20.20" fill="#000"><tspan >500</tspan></text>
<line x1="1038.20" y1="352.50" x2="1038.20" y2="356.30" stroke="#000" stroke-width="1.5" />
<text transform="translate(1034.04,372.90) scale(0.9900,1)" font-size="20.20" fill="#000"><tspan >0</tspan></text>
<line x1="1072.70" y1="352.50" x2="1072.70" y2="356.30" stroke="#000" stroke-width="1.5" />
<text transform="translate(1064.27,372.90) scale(0.9900,1)" font-size="20.20" fill="#000"><tspan >20</tspan></text>
<line x1="1107.20" y1="352.50" x2="1107.20" y2="356.30" stroke="#000" stroke-width="1.5" />
<text transform="translate(1094.44,372.90) scale(0.9900,1)" font-size="20.20" fill="#000"><tspan >40</tspan></text>
<line x1="1141.70" y1="352.50" x2="1141.70" y2="356.30" stroke="#000" stroke-width="1.5" />
<text transform="translate(1129.26,372.90) scale(0.9900,1)" font-size="20.20" fill="#000"><tspan >60</tspan></text>
<line x1="1176.20" y1="352.50" x2="1176.20" y2="356.30" stroke="#000" stroke-width="1.5" />
<text transform="translate(1165.53,372.90) scale(0.9900,1)" font-size="20.20" fill="#000"><tspan >80</tspan></text>
<line x1="1210.70" y1="352.50" x2="1210.70" y2="356.30" stroke="#000" stroke-width="1.5" />
<text transform="translate(1195.15,372.90) scale(0.9900,1)" font-size="20.20" fill="#000"><tspan >100</tspan></text>
<text transform="translate(1230.46,373.30) scale(1.2614,1)" font-size="17.66" fill="#000"><tspan >h</tspan></text>
<text transform="translate(988.81,318.35) rotate(-90) scale(1.0262,1)" font-size="19.74" fill="#000"><tspan >nmol/L</tspan></text>
<polyline points="1038.20,274.29 1039.24,275.93 1040.27,277.53 1041.31,279.10 1042.34,280.64 1043.38,282.15 1044.41,283.62 1045.44,285.06 1046.48,286.47 1047.52,287.85 1048.55,289.20 1049.59,290.52 1050.62,291.81 1051.65,293.07 1052.69,294.31 1053.73,295.52 1054.76,296.70 1055.80,297.86 1056.83,299.00 1057.87,300.11 1058.90,301.19 1059.93,302.26 1060.97,303.30 1062.01,304.31 1063.04,305.31 1064.08,306.28 1065.11,307.24 1066.14,308.17 1067.18,309.08 1068.22,309.97 1069.25,310.85 1070.29,311.70 1071.32,312.54 1072.36,313.36 1073.39,314.16 1074.42,314.94 1075.46,315.71 1076.50,316.46 1077.53,317.20 1078.57,317.92 1079.60,318.62 1080.63,319.31 1081.67,319.98 1082.71,320.64 1083.74,321.28 1084.78,321.91 1085.81,322.53 1086.85,323.14 1087.88,323.73 1088.91,324.31 1089.95,324.87 1090.99,325.43 1092.02,325.97 1093.06,326.50 1094.09,327.02 1095.12,327.52 1096.16,328.02 1097.20,328.51 1098.23,328.98 1099.27,329.45 1100.30,329.90 1101.34,330.35 1102.37,330.79 1103.40,331.21 1104.44,331.63 1105.48,332.04 1106.51,332.44 1107.55,332.83 1108.58,333.21 1109.62,333.59 1110.65,333.95 1111.68,334.31 1112.72,334.66 1113.76,335.01 1114.79,335.34 1115.83,335.67 1116.86,335.99 1117.89,336.31 1118.93,336.62 1119.97,336.92 1121.00,337.21 1122.04,337.50 1123.07,337.78 1124.11,338.06 1125.14,338.33 1126.17,338.60 1127.21,338.86 1128.25,339.11 1129.28,339.36 1130.32,339.60 1131.35,339.84 1132.38,340.07 1133.42,340.30 1134.45,340.52 1135.49,340.74 1136.53,340.95 1137.56,341.16 1138.60,341.36 1139.63,341.56 1140.66,341.76 1141.70,341.95 1142.74,342.13 1143.77,342.32 1144.81,342.50 1145.84,342.67 1146.88,342.84 1147.91,343.01 1148.95,343.17 1149.98,343.34 1151.02,343.49 1152.05,343.65 1153.09,343.80 1154.12,343.94 1155.15,344.09 1156.19,344.23 1157.23,344.37 1158.26,344.50 1159.30,344.63 1160.33,344.76 1161.37,344.89 1162.40,345.01 1163.43,345.13 1164.47,345.25 1165.51,345.37 1166.54,345.48 1167.58,345.59 1168.61,345.70 1169.64,345.81 1170.68,345.91 1171.72,346.01 1172.75,346.11 1173.79,346.21 1174.82,346.31 1175.86,346.40 1176.89,346.49 1177.92,346.58 1178.96,346.67 1180.00,346.75 1181.03,346.84 1182.07,346.92 1183.10,347.00 1184.13,347.08 1185.17,347.15 1186.20,347.23 1187.24,347.30 1188.28,347.37 1189.31,347.44 1190.35,347.51 1191.38,347.58 1192.41,347.65 1193.45,347.71 1194.49,347.77 1195.52,347.84 1196.56,347.90 1197.59,347.96 1198.62,348.01 1199.66,348.07 1200.70,348.13 1201.73,348.18 1202.77,348.23 1203.80,348.28" fill="none" stroke="#000" stroke-width="1.6" />
<circle cx="1038.72" cy="270.12" r="3.2" fill="#000"/>
<circle cx="1039.58" cy="276.37" r="3.2" fill="#000"/>
<circle cx="1041.13" cy="279.15" r="3.2" fill="#000"/>
<circle cx="1043.38" cy="280.77" r="3.2" fill="#000"/>
<circle cx="1045.62" cy="284.93" r="3.2" fill="#000"/>
<circle cx="1052.52" cy="292.10" r="3.2" fill="#000"/>
<circle cx="1079.60" cy="314.09" r="3.2" fill="#000"/>
<circle cx="1121.69" cy="343.24" r="3.2" fill="#000"/>
<circle cx="1162.40" cy="346.95" r="3.2" fill="#000"/>
<circle cx="1203.28" cy="347.64" r="3.2" fill="#000"/>
<line x1="1038.90" y1="392.50" x2="1038.90" y2="511.50" stroke="#000" stroke-width="1.8" />
<line x1="1038.00" y1="510.50" x2="1211.80" y2="510.50" stroke="#000" stroke-width="1.9" />
<line x1="1035.40" y1="510.50" x2="1038.90" y2="510.50" stroke="#000" stroke-width="1.5" />
<text transform="translate(1018.96,517.95) scale(0.9900,1)" font-size="20.20" fill="#000"><tspan >0</tspan></text>
<line x1="1035.40" y1="487.06" x2="1038.90" y2="487.06" stroke="#000" stroke-width="1.5" />
<text transform="translate(996.72,494.51) scale(0.9900,1)" font-size="20.20" fill="#000"><tspan >100</tspan></text>
<line x1="1035.40" y1="463.62" x2="1038.90" y2="463.62" stroke="#000" stroke-width="1.5" />
<text transform="translate(996.72,471.07) scale(0.9900,1)" font-size="20.20" fill="#000"><tspan >200</tspan></text>
<line x1="1035.40" y1="440.18" x2="1038.90" y2="440.18" stroke="#000" stroke-width="1.5" />
<text transform="translate(996.72,447.63) scale(0.9900,1)" font-size="20.20" fill="#000"><tspan >300</tspan></text>
<line x1="1035.40" y1="416.74" x2="1038.90" y2="416.74" stroke="#000" stroke-width="1.5" />
<text transform="translate(996.72,424.19) scale(0.9900,1)" font-size="20.20" fill="#000"><tspan >400</tspan></text>
<line x1="1035.40" y1="393.30" x2="1038.90" y2="393.30" stroke="#000" stroke-width="1.5" />
<text transform="translate(996.72,400.75) scale(0.9900,1)" font-size="20.20" fill="#000"><tspan >500</tspan></text>
<line x1="1038.90" y1="510.50" x2="1038.90" y2="514.30" stroke="#000" stroke-width="1.5" />
<text transform="translate(1034.74,530.90) scale(0.9900,1)" font-size="20.20" fill="#000"><tspan >0</tspan></text>
<line x1="1073.32" y1="510.50" x2="1073.32" y2="514.30" stroke="#000" stroke-width="1.5" />
<text transform="translate(1064.89,530.90) scale(0.9900,1)" font-size="20.20" fill="#000"><tspan >20</tspan></text>
<line x1="1107.74" y1="510.50" x2="1107.74" y2="514.30" stroke="#000" stroke-width="1.5" />
<text transform="translate(1094.98,530.90) scale(0.9900,1)" font-size="20.20" fill="#000"><tspan >40</tspan></text>
<line x1="1142.16" y1="510.50" x2="1142.16" y2="514.30" stroke="#000" stroke-width="1.5" />
<text transform="translate(1129.72,530.90) scale(0.9900,1)" font-size="20.20" fill="#000"><tspan >60</tspan></text>
<line x1="1176.58" y1="510.50" x2="1176.58" y2="514.30" stroke="#000" stroke-width="1.5" />
<text transform="translate(1165.91,530.90) scale(0.9900,1)" font-size="20.20" fill="#000"><tspan >80</tspan></text>
<line x1="1211.00" y1="510.50" x2="1211.00" y2="514.30" stroke="#000" stroke-width="1.5" />
<text transform="translate(1195.45,530.90) scale(0.9900,1)" font-size="20.20" fill="#000"><tspan >100</tspan></text>
<text transform="translate(1230.52,530.80) scale(1.1366,1)" font-size="18.77" fill="#000"><tspan >h</tspan></text>
<text transform="translate(988.81,473.34) rotate(-90) scale(1.0210,1)" font-size="19.74" fill="#000"><tspan >nmol/L</tspan></text>
<polyline points="1038.90,414.40 1039.93,416.10 1040.97,417.78 1042.00,419.42 1043.03,421.03 1044.06,422.62 1045.10,424.17 1046.13,425.70 1047.16,427.20 1048.19,428.67 1049.23,430.11 1050.26,431.53 1051.29,432.92 1052.32,434.28 1053.36,435.62 1054.39,436.94 1055.42,438.23 1056.45,439.50 1057.49,440.74 1058.52,441.96 1059.55,443.16 1060.58,444.33 1061.62,445.49 1062.65,446.62 1063.68,447.73 1064.72,448.83 1065.75,449.90 1066.78,450.95 1067.81,451.98 1068.85,453.00 1069.88,453.99 1070.91,454.97 1071.94,455.93 1072.98,456.87 1074.01,457.79 1075.04,458.70 1076.07,459.59 1077.11,460.46 1078.14,461.32 1079.17,462.16 1080.20,462.99 1081.24,463.80 1082.27,464.59 1083.30,465.37 1084.33,466.14 1085.37,466.89 1086.40,467.63 1087.43,468.36 1088.46,469.07 1089.50,469.77 1090.53,470.45 1091.56,471.13 1092.60,471.79 1093.63,472.44 1094.66,473.07 1095.69,473.70 1096.73,474.31 1097.76,474.91 1098.79,475.50 1099.82,476.08 1100.86,476.65 1101.89,477.21 1102.92,477.76 1103.95,478.30 1104.99,478.83 1106.02,479.35 1107.05,479.86 1108.08,480.36 1109.12,480.85 1110.15,481.33 1111.18,481.80 1112.21,482.27 1113.25,482.72 1114.28,483.17 1115.31,483.61 1116.35,484.04 1117.38,484.46 1118.41,484.88 1119.44,485.28 1120.48,485.68 1121.51,486.08 1122.54,486.46 1123.57,486.84 1124.61,487.21 1125.64,487.57 1126.67,487.93 1127.70,488.28 1128.74,488.63 1129.77,488.97 1130.80,489.30 1131.83,489.62 1132.87,489.94 1133.90,490.26 1134.93,490.57 1135.96,490.87 1137.00,491.17 1138.03,491.46 1139.06,491.74 1140.09,492.02 1141.13,492.30 1142.16,492.57 1143.19,492.84 1144.23,493.10 1145.26,493.35 1146.29,493.60 1147.32,493.85 1148.36,494.09 1149.39,494.33 1150.42,494.56 1151.45,494.79 1152.49,495.02 1153.52,495.24 1154.55,495.45 1155.58,495.67 1156.62,495.87 1157.65,496.08 1158.68,496.28 1159.71,496.48 1160.75,496.67 1161.78,496.86 1162.81,497.05 1163.84,497.23 1164.88,497.41 1165.91,497.59 1166.94,497.76 1167.97,497.93 1169.01,498.10 1170.04,498.26 1171.07,498.42 1172.11,498.58 1173.14,498.73 1174.17,498.89 1175.20,499.04 1176.24,499.18 1177.27,499.33 1178.30,499.47 1179.33,499.61 1180.37,499.74 1181.40,499.88 1182.43,500.01 1183.46,500.13 1184.50,500.26 1185.53,500.38 1186.56,500.51 1187.59,500.63 1188.63,500.74 1189.66,500.86 1190.69,500.97 1191.72,501.08 1192.76,501.19 1193.79,501.30 1194.82,501.40 1195.86,501.50 1196.89,501.61 1197.92,501.70 1198.95,501.80 1199.99,501.90 1201.02,501.99 1202.05,502.08 1203.08,502.17 1204.12,502.26" fill="none" stroke="#000" stroke-width="1.6" />
<circle cx="1039.76" cy="408.07" r="3.2" fill="#000"/>
<circle cx="1040.62" cy="412.29" r="3.2" fill="#000"/>
<circle cx="1042.34" cy="421.66" r="3.2" fill="#000"/>
<circle cx="1045.78" cy="429.40" r="3.2" fill="#000"/>
<circle cx="1052.67" cy="442.52" r="3.2" fill="#000"/>
<circle cx="1080.20" cy="457.76" r="3.2" fill="#000"/>
<circle cx="1121.51" cy="482.14" r="3.2" fill="#000"/>
<circle cx="1162.81" cy="493.15" r="3.2" fill="#000"/>
<circle cx="1204.12" cy="505.34" r="3.2" fill="#000"/>
<line x1="1038.20" y1="552.50" x2="1038.20" y2="673.10" stroke="#000" stroke-width="1.8" />
<line x1="1037.30" y1="672.10" x2="1209.60" y2="672.10" stroke="#000" stroke-width="1.9" />
<line x1="1034.70" y1="672.10" x2="1038.20" y2="672.10" stroke="#000" stroke-width="1.5" />
<text transform="translate(1018.96,679.55) scale(0.9900,1)" font-size="20.20" fill="#000"><tspan >0</tspan></text>
<line x1="1034.70" y1="648.34" x2="1038.20" y2="648.34" stroke="#000" stroke-width="1.5" />
<text transform="translate(996.72,655.79) scale(0.9900,1)" font-size="20.20" fill="#000"><tspan >100</tspan></text>
<line x1="1034.70" y1="624.58" x2="1038.20" y2="624.58" stroke="#000" stroke-width="1.5" />
<text transform="translate(996.72,632.03) scale(0.9900,1)" font-size="20.20" fill="#000"><tspan >200</tspan></text>
<line x1="1034.70" y1="600.82" x2="1038.20" y2="600.82" stroke="#000" stroke-width="1.5" />
<text transform="translate(996.72,608.27) scale(0.9900,1)" font-size="20.20" fill="#000"><tspan >300</tspan></text>
<line x1="1034.70" y1="577.06" x2="1038.20" y2="577.06" stroke="#000" stroke-width="1.5" />
<text transform="translate(996.72,584.51) scale(0.9900,1)" font-size="20.20" fill="#000"><tspan >400</tspan></text>
<line x1="1034.70" y1="553.30" x2="1038.20" y2="553.30" stroke="#000" stroke-width="1.5" />
<text transform="translate(996.72,560.75) scale(0.9900,1)" font-size="20.20" fill="#000"><tspan >500</tspan></text>
<line x1="1038.20" y1="672.10" x2="1038.20" y2="675.90" stroke="#000" stroke-width="1.5" />
<text transform="translate(1034.04,692.50) scale(0.9900,1)" font-size="20.20" fill="#000"><tspan >0</tspan></text>
<line x1="1072.32" y1="672.10" x2="1072.32" y2="675.90" stroke="#000" stroke-width="1.5" />
<text transform="translate(1064.29,692.50) scale(0.9900,1)" font-size="20.20" fill="#000"><tspan >20</tspan></text>
<line x1="1106.44" y1="672.10" x2="1106.44" y2="675.90" stroke="#000" stroke-width="1.5" />
<text transform="translate(1094.18,692.50) scale(0.9900,1)" font-size="20.20" fill="#000"><tspan >40</tspan></text>
<line x1="1140.56" y1="672.10" x2="1140.56" y2="675.90" stroke="#000" stroke-width="1.5" />
<text transform="translate(1129.92,692.50) scale(0.9900,1)" font-size="20.20" fill="#000"><tspan >60</tspan></text>
<line x1="1174.68" y1="672.10" x2="1174.68" y2="675.90" stroke="#000" stroke-width="1.5" />
<text transform="translate(1166.71,692.50) scale(0.9900,1)" font-size="20.20" fill="#000"><tspan >80</tspan></text>
<line x1="1208.80" y1="672.10" x2="1208.80" y2="675.90" stroke="#000" stroke-width="1.5" />
<text transform="translate(1197.25,692.50) scale(0.9900,1)" font-size="20.20" fill="#000"><tspan >100</tspan></text>
<text transform="translate(1230.06,693.50) scale(1.1785,1)" font-size="18.91" fill="#000"><tspan >h</tspan></text>
<text transform="translate(988.81,635.34) rotate(-90) scale(1.0210,1)" font-size="19.74" fill="#000"><tspan >nmol/L</tspan></text>
<polyline points="1038.20,586.09 1039.22,587.30 1040.25,588.50 1041.27,589.68 1042.29,590.84 1043.32,591.99 1044.34,593.11 1045.37,594.22 1046.39,595.31 1047.41,596.39 1048.44,597.45 1049.46,598.49 1050.48,599.52 1051.51,600.53 1052.53,601.53 1053.55,602.51 1054.58,603.48 1055.60,604.43 1056.62,605.36 1057.65,606.29 1058.67,607.20 1059.70,608.09 1060.72,608.97 1061.74,609.84 1062.77,610.70 1063.79,611.54 1064.81,612.37 1065.84,613.19 1066.86,613.99 1067.88,614.78 1068.91,615.56 1069.93,616.33 1070.96,617.09 1071.98,617.83 1073.00,618.57 1074.03,619.29 1075.05,620.00 1076.07,620.70 1077.10,621.39 1078.12,622.07 1079.14,622.74 1080.17,623.40 1081.19,624.05 1082.21,624.69 1083.24,625.32 1084.26,625.94 1085.29,626.55 1086.31,627.15 1087.33,627.74 1088.36,628.33 1089.38,628.90 1090.40,629.47 1091.43,630.02 1092.45,630.57 1093.47,631.11 1094.50,631.64 1095.52,632.17 1096.55,632.68 1097.57,633.19 1098.59,633.69 1099.62,634.19 1100.64,634.67 1101.66,635.15 1102.69,635.62 1103.71,636.08 1104.73,636.54 1105.76,636.99 1106.78,637.43 1107.80,637.87 1108.83,638.30 1109.85,638.72 1110.88,639.14 1111.90,639.55 1112.92,639.95 1113.95,640.35 1114.97,640.74 1115.99,641.13 1117.02,641.51 1118.04,641.88 1119.06,642.25 1120.09,642.61 1121.11,642.97 1122.14,643.32 1123.16,643.67 1124.18,644.01 1125.21,644.35 1126.23,644.68 1127.25,645.01 1128.28,645.33 1129.30,645.64 1130.32,645.96 1131.35,646.26 1132.37,646.56 1133.39,646.86 1134.42,647.15 1135.44,647.44 1136.47,647.73 1137.49,648.01 1138.51,648.28 1139.54,648.55 1140.56,648.82 1141.58,649.08 1142.61,649.34 1143.63,649.60 1144.65,649.85 1145.68,650.10 1146.70,650.34 1147.73,650.58 1148.75,650.82 1149.77,651.05 1150.80,651.28 1151.82,651.51 1152.84,651.73 1153.87,651.95 1154.89,652.16 1155.91,652.38 1156.94,652.59 1157.96,652.79 1158.98,653.00 1160.01,653.20 1161.03,653.39 1162.06,653.59 1163.08,653.78 1164.10,653.97 1165.13,654.15 1166.15,654.33 1167.17,654.51 1168.20,654.69 1169.22,654.86 1170.24,655.03 1171.27,655.20 1172.29,655.37 1173.32,655.53 1174.34,655.70 1175.36,655.85 1176.39,656.01 1177.41,656.16 1178.43,656.32 1179.46,656.47 1180.48,656.61 1181.50,656.76 1182.53,656.90 1183.55,657.04 1184.57,657.18 1185.60,657.32 1186.62,657.45 1187.65,657.58 1188.67,657.71 1189.69,657.84 1190.72,657.97 1191.74,658.09 1192.76,658.21 1193.79,658.34 1194.81,658.45 1195.83,658.57 1196.86,658.69 1197.88,658.80 1198.91,658.91 1199.93,659.02 1200.95,659.13 1201.98,659.24" fill="none" stroke="#000" stroke-width="1.6" />
<circle cx="1038.71" cy="572.78" r="3.2" fill="#000"/>
<circle cx="1039.91" cy="581.34" r="3.2" fill="#000"/>
<circle cx="1041.61" cy="588.23" r="3.2" fill="#000"/>
<circle cx="1045.02" cy="603.43" r="3.2" fill="#000"/>
<circle cx="1051.85" cy="611.99" r="3.2" fill="#000"/>
<circle cx="1078.29" cy="618.16" r="3.2" fill="#000"/>
<circle cx="1119.23" cy="635.75" r="3.2" fill="#000"/>
<circle cx="1159.33" cy="649.29" r="3.2" fill="#000"/>
<circle cx="1200.27" cy="654.99" r="3.2" fill="#000"/>
<text transform="translate(796.65,90.70) scale(1.0487,1)" font-size="19.62" fill="#000"><tspan >7D12</tspan></text>
<text transform="translate(796.95,123.41) scale(1.0546,1)" font-size="19.20" fill="#000"><tspan >T</tspan><tspan font-size="11.90">1/2</tspan><tspan >= 0.24 h</tspan></text>
<text transform="translate(1080.55,90.20) scale(0.9983,1)" font-size="20.48" fill="#000"><tspan >7D12</tspan></text>
<text transform="translate(1080.64,127.01) scale(1.0513,1)" font-size="19.34" fill="#000"><tspan >T</tspan><tspan font-size="11.99">1/2</tspan><tspan >= 0.27 h</tspan></text>
<text transform="translate(782.04,251.82) scale(1.1013,1)" font-size="18.38" fill="#000"><tspan >Rha-7D12</tspan></text>
<text transform="translate(782.84,284.41) scale(1.0557,1)" font-size="19.20" fill="#000"><tspan >T</tspan><tspan font-size="11.90">1/2</tspan><tspan >= 0.27 h</tspan></text>
<text transform="translate(1074.25,255.62) scale(1.1175,1)" font-size="17.97" fill="#000"><tspan >Rha-7D12</tspan></text>
<text transform="translate(1075.85,282.62) scale(1.1170,1)" font-size="18.11" fill="#000"><tspan >T</tspan><tspan font-size="11.23">1/2</tspan><tspan >= 19.5 h</tspan></text>
<text transform="translate(796.44,418.90) scale(1.0875,1)" font-size="18.76" fill="#000"><tspan font-weight="bold">R2</tspan></text>
<text transform="translate(796.64,453.22) scale(1.1299,1)" font-size="17.97" fill="#000"><tspan >T</tspan><tspan font-size="11.14">1/2</tspan><tspan >= 0.96 h</tspan></text>
<text transform="translate(1100.72,417.00) scale(1.0966,1)" font-size="18.76" fill="#000"><tspan font-weight="bold">R2</tspan></text>
<text transform="translate(1099.74,444.71) scale(1.0503,1)" font-size="19.34" fill="#000"><tspan >T</tspan><tspan font-size="11.99">1/2</tspan><tspan >= 23.1 h</tspan></text>
<text transform="translate(802.14,573.01) scale(1.0295,1)" font-size="19.78" fill="#000"><tspan font-weight="bold">R5</tspan></text>
<text transform="translate(802.54,601.11) scale(1.0588,1)" font-size="19.20" fill="#000"><tspan >T</tspan><tspan font-size="11.90">1/2</tspan><tspan >= 0.93 h</tspan></text>
<text transform="translate(1092.11,572.61) scale(1.0509,1)" font-size="19.78" fill="#000"><tspan font-weight="bold">R5</tspan></text>
<text transform="translate(1092.54,599.71) scale(1.0513,1)" font-size="19.34" fill="#000"><tspan >T</tspan><tspan font-size="11.99">1/2</tspan><tspan >= 27.6 h</tspan></text>
</svg></body></html>
